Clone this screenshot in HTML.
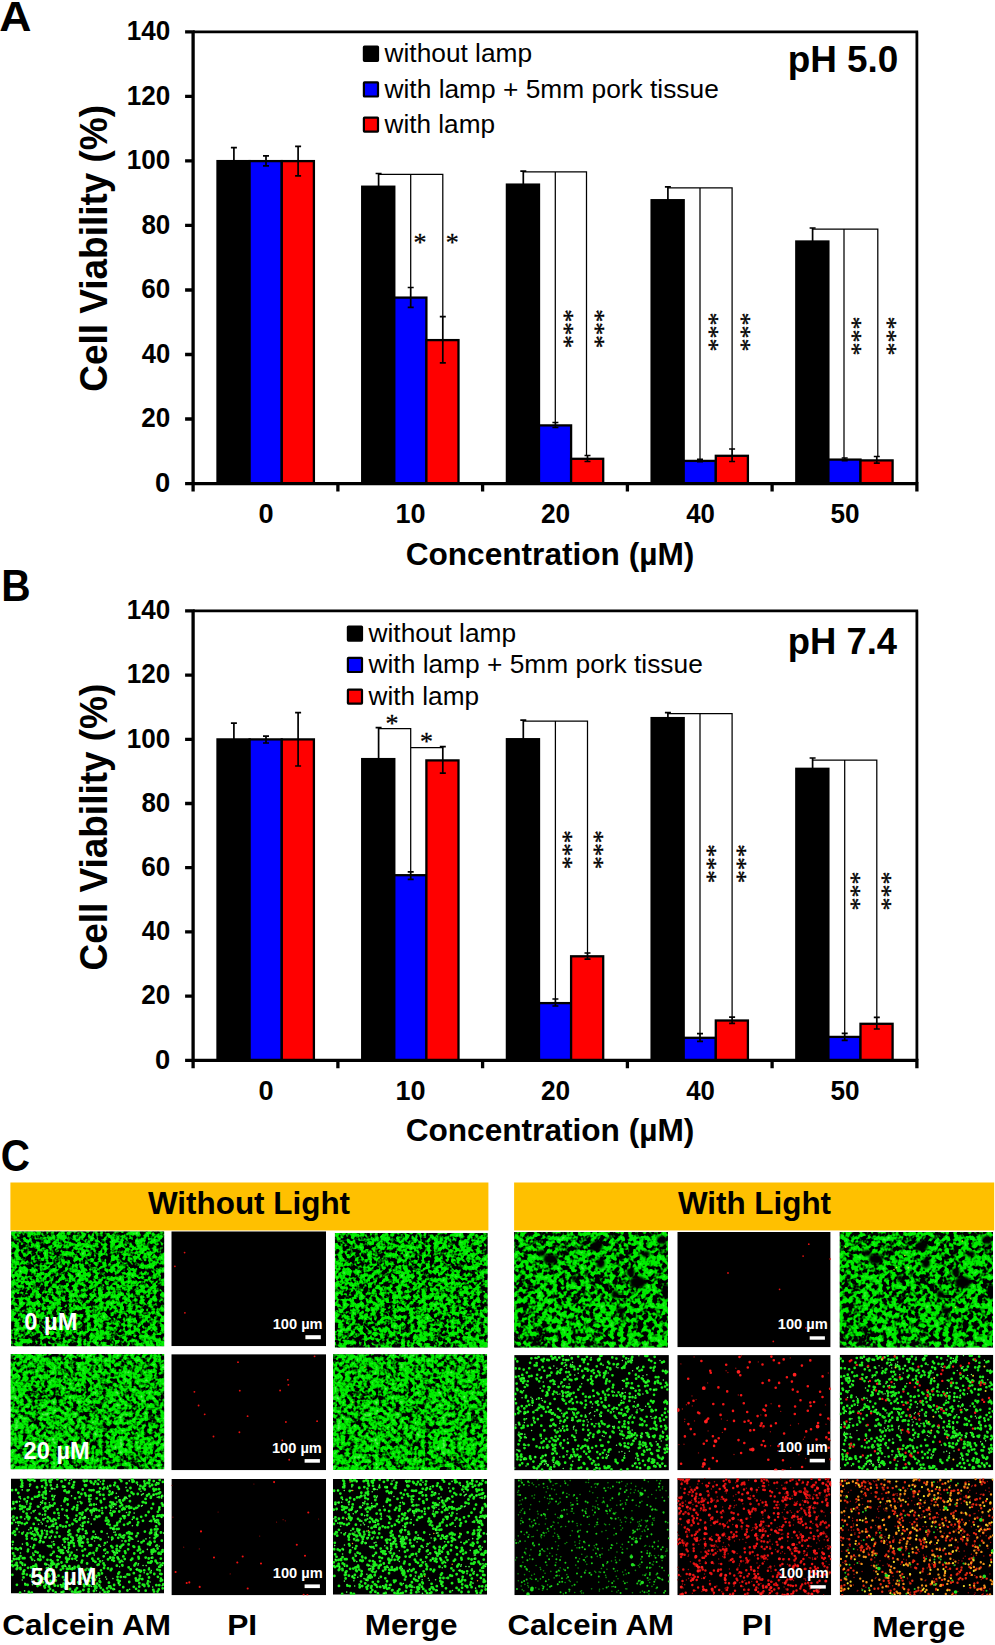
<!DOCTYPE html>
<html lang="en"><head><meta charset="utf-8"><title>Figure</title>
<style>html,body{margin:0;padding:0;background:#fff}svg{display:block}text{font-family:"Liberation Sans",Arial,sans-serif}text.sf{font-family:"Liberation Serif","Times New Roman",serif;stroke:#000;stroke-width:.3px}</style>
</head><body>
<svg width="995" height="1645" viewBox="0 0 995 1645">
<rect width="995" height="1645" fill="#fff"/>
<g id="chartA">
<rect x="217.5" y="161.1" width="32.1" height="322.5" fill="#000" stroke="#000" stroke-width="2.3"/>
<rect x="249.6" y="161.1" width="32.1" height="322.5" fill="#0000ff" stroke="#000" stroke-width="2.3"/>
<rect x="281.8" y="161.1" width="32.1" height="322.5" fill="#ff0000" stroke="#000" stroke-width="2.3"/>
<rect x="362.2" y="186.7" width="32.1" height="296.9" fill="#000" stroke="#000" stroke-width="2.3"/>
<rect x="394.3" y="297.6" width="32.1" height="186" fill="#0000ff" stroke="#000" stroke-width="2.3"/>
<rect x="426.4" y="340.1" width="32.1" height="143.5" fill="#ff0000" stroke="#000" stroke-width="2.3"/>
<rect x="506.9" y="184.6" width="32.1" height="299" fill="#000" stroke="#000" stroke-width="2.3"/>
<rect x="539" y="425.4" width="32.1" height="58.1" fill="#0000ff" stroke="#000" stroke-width="2.3"/>
<rect x="571.1" y="458.8" width="32.1" height="24.7" fill="#ff0000" stroke="#000" stroke-width="2.3"/>
<rect x="651.6" y="200.2" width="32.1" height="283.4" fill="#000" stroke="#000" stroke-width="2.3"/>
<rect x="683.7" y="460.9" width="32.1" height="22.6" fill="#0000ff" stroke="#000" stroke-width="2.3"/>
<rect x="715.8" y="455.8" width="32.1" height="27.7" fill="#ff0000" stroke="#000" stroke-width="2.3"/>
<rect x="796.3" y="241.5" width="32.1" height="242.1" fill="#000" stroke="#000" stroke-width="2.3"/>
<rect x="828.4" y="459.6" width="32.1" height="23.9" fill="#0000ff" stroke="#000" stroke-width="2.3"/>
<rect x="860.5" y="460.4" width="32.1" height="23.1" fill="#ff0000" stroke="#000" stroke-width="2.3"/>
<path d="M233.9 147.7V173M230.9 147.7h6M266 155.8V165.8M263 155.8h6M263 165.8h6M298.1 146.3V175.9M295.1 146.3h6M295.1 175.9h6M378.6 173.5V199M375.6 173.5h6M410.7 287.5V307.4M407.7 287.5h6M407.7 307.4h6M442.8 316.7V362.9M439.8 316.7h6M439.8 362.9h6M523.3 171.1V197M520.3 171.1h6M555.4 422.5V427.5M552.4 422.5h6M552.4 427.5h6M587.5 455.5V461.5M584.5 455.5h6M584.5 461.5h6M667.9 186.8V212M664.9 186.8h6M700 459.3V461.7M697 459.3h6M697 461.7h6M732.1 449V461.5M729.1 449h6M729.1 461.5h6M812.6 228V254M809.6 228h6M844.7 458V460.6M841.7 458h6M841.7 460.6h6M876.8 456.5V463.2M873.8 456.5h6M873.8 463.2h6" stroke="#000" stroke-width="1.7" fill="none"/>
<path d="M378.6 174.4H442.8V316.7M410.7 174.4V287.5M522.9 171.9H586.5V455.5M555.3 171.9V422.5M667.9 187.8H732.1V449M700 187.8V459.3M812.3 229.2H877.8V456.5M844 229.2V458" stroke="#000" stroke-width="1.25" fill="none"/>
<text class="sf" x="419.9" y="251" font-size="26" text-anchor="middle">*</text>
<text class="sf" x="452.2" y="251" font-size="26" text-anchor="middle">*</text>
<text class="sf" transform="translate(555.6 328.8) rotate(90)" font-size="26" text-anchor="middle">***</text>
<text class="sf" transform="translate(586.8 328.8) rotate(90)" font-size="26" text-anchor="middle">***</text>
<text class="sf" transform="translate(701.4 332) rotate(90)" font-size="26" text-anchor="middle">***</text>
<text class="sf" transform="translate(732.6 332) rotate(90)" font-size="26" text-anchor="middle">***</text>
<text class="sf" transform="translate(844.4 336) rotate(90)" font-size="26" text-anchor="middle">***</text>
<text class="sf" transform="translate(878.5 336) rotate(90)" font-size="26" text-anchor="middle">***</text>
<path d="M193.1 31.9H918.2M916.9 31.9V483.6" stroke="#000" stroke-width="2.8" fill="none"/>
<path d="M185.1 31.9H193.1M193.1 30.2V491.6M185.1 483.6H918.5M916.9 483.6V491.6M185.1 419H193.1M185.1 354.5H193.1M185.1 290H193.1M185.1 225.4H193.1M185.1 160.9H193.1M185.1 96.4H193.1M337.9 483.6V491.6M482.6 483.6V491.6M627.4 483.6V491.6M772.1 483.6V491.6" stroke="#000" stroke-width="3.3" fill="none"/>
<text transform="translate(155.11 491.84) scale(1.0136 1)" font-size="27" font-weight="bold">0</text>
<text transform="translate(141.29 427.31) scale(0.9662 1)" font-size="27" font-weight="bold">20</text>
<text transform="translate(141.82 362.78) scale(0.9479 1)" font-size="27" font-weight="bold">40</text>
<text transform="translate(141.29 298.25) scale(0.9662 1)" font-size="27" font-weight="bold">60</text>
<text transform="translate(141.42 233.72) scale(0.9615 1)" font-size="27" font-weight="bold">80</text>
<text transform="translate(126.71 169.2) scale(0.9656 1)" font-size="27" font-weight="bold">100</text>
<text transform="translate(126.71 104.67) scale(0.9656 1)" font-size="27" font-weight="bold">120</text>
<text transform="translate(126.71 40.14) scale(0.9656 1)" font-size="27" font-weight="bold">140</text>
<text transform="translate(258.61 523.4) scale(0.9985 1)" font-size="27.2" font-weight="bold">0</text>
<text transform="translate(395.47 523.4) scale(0.995 1)" font-size="27.2" font-weight="bold">10</text>
<text transform="translate(540.99 523.4) scale(0.9662 1)" font-size="27.2" font-weight="bold">20</text>
<text transform="translate(686.2 523.4) scale(0.9479 1)" font-size="27.2" font-weight="bold">40</text>
<text transform="translate(830.49 523.4) scale(0.9615 1)" font-size="27.2" font-weight="bold">50</text>
<text transform="translate(405.63 565.45) scale(1.0015 1)" font-size="31.58" font-weight="bold">Concentration (µM)</text>
<text transform="translate(107.33 391.68) rotate(-90) scale(0.9653 1)" font-size="38.28" font-weight="bold">Cell Viability (%)</text>
<rect x="363.9" y="46.7" width="14.1" height="14.1" rx="0.6" fill="#000" stroke="#000" stroke-width="2.2"/>
<text transform="translate(384.5 61.8) scale(1.053 1)" font-size="24.98">without lamp</text>
<rect x="363.9" y="82.4" width="14.1" height="14.1" rx="0.6" fill="#0000ff" stroke="#000" stroke-width="2.2"/>
<text transform="translate(384.5 97.5) scale(1.0544 1)" font-size="24.98">with lamp + 5mm pork tissue</text>
<rect x="363.9" y="117.6" width="14.1" height="14.1" rx="0.6" fill="#ff0000" stroke="#000" stroke-width="2.2"/>
<text transform="translate(384.5 132.7) scale(1.0478 1)" font-size="24.98">with lamp</text>
<text transform="translate(787.7 72.3) scale(0.9953 1)" font-size="37.06" font-weight="bold">pH 5.0</text>
</g>
<g id="chartB">
<rect x="217.5" y="739.4" width="32.1" height="321" fill="#000" stroke="#000" stroke-width="2.3"/>
<rect x="249.6" y="739.4" width="32.1" height="321" fill="#0000ff" stroke="#000" stroke-width="2.3"/>
<rect x="281.8" y="739.4" width="32.1" height="321" fill="#ff0000" stroke="#000" stroke-width="2.3"/>
<rect x="362.2" y="759.1" width="32.1" height="301.2" fill="#000" stroke="#000" stroke-width="2.3"/>
<rect x="394.3" y="875.2" width="32.1" height="185.1" fill="#0000ff" stroke="#000" stroke-width="2.3"/>
<rect x="426.4" y="760.4" width="32.1" height="299.9" fill="#ff0000" stroke="#000" stroke-width="2.3"/>
<rect x="506.9" y="739.2" width="32.1" height="321.1" fill="#000" stroke="#000" stroke-width="2.3"/>
<rect x="539" y="1003.1" width="32.1" height="57.2" fill="#0000ff" stroke="#000" stroke-width="2.3"/>
<rect x="571.1" y="956.3" width="32.1" height="104" fill="#ff0000" stroke="#000" stroke-width="2.3"/>
<rect x="651.6" y="718.1" width="32.1" height="342.2" fill="#000" stroke="#000" stroke-width="2.3"/>
<rect x="683.7" y="1037.8" width="32.1" height="22.6" fill="#0000ff" stroke="#000" stroke-width="2.3"/>
<rect x="715.8" y="1020.5" width="32.1" height="39.8" fill="#ff0000" stroke="#000" stroke-width="2.3"/>
<rect x="796.3" y="768.8" width="32.1" height="291.5" fill="#000" stroke="#000" stroke-width="2.3"/>
<rect x="828.4" y="1036.9" width="32.1" height="23.5" fill="#0000ff" stroke="#000" stroke-width="2.3"/>
<rect x="860.5" y="1023.8" width="32.1" height="36.5" fill="#ff0000" stroke="#000" stroke-width="2.3"/>
<path d="M233.9 723.2V755M230.9 723.2h6M266 736.1V743M263 736.1h6M263 743h6M298.1 712.6V766M295.1 712.6h6M295.1 766h6M378.6 727.7V790M375.6 727.7h6M410.7 871.8V879.3M407.7 871.8h6M407.7 879.3h6M442.8 746.7V773.2M439.8 746.7h6M439.8 773.2h6M523.3 720.2V757M520.3 720.2h6M555.4 999V1006M552.4 999h6M552.4 1006h6M587.5 953V959.2M584.5 953h6M584.5 959.2h6M667.9 712.6V723M664.9 712.6h6M700 1033.7V1041.3M697 1033.7h6M697 1041.3h6M732.1 1017.1V1023.3M729.1 1017.1h6M729.1 1023.3h6M812.6 758V779M809.6 758h6M844.7 1033.4V1040.3M841.7 1033.4h6M841.7 1040.3h6M876.8 1017.4V1029M873.8 1017.4h6M873.8 1029h6" stroke="#000" stroke-width="1.7" fill="none"/>
<path d="M378.6 728.6H410.7V871.8M410.7 747.6H442.8M523.3 721H587.5V953M555.4 721V999M667.9 713.5H732.1V1017.1M700 713.5V1033.7M812.6 760.1H876.8V1017.4M844.7 760.1V1033.4" stroke="#000" stroke-width="1.25" fill="none"/>
<text class="sf" x="392" y="731.5" font-size="26" text-anchor="middle">*</text>
<text class="sf" x="426.6" y="749.5" font-size="26" text-anchor="middle">*</text>
<text class="sf" transform="translate(555 849.8) rotate(90)" font-size="26" text-anchor="middle">***</text>
<text class="sf" transform="translate(586.3 849.8) rotate(90)" font-size="26" text-anchor="middle">***</text>
<text class="sf" transform="translate(698.5 863.7) rotate(90)" font-size="26" text-anchor="middle">***</text>
<text class="sf" transform="translate(729.4 863.7) rotate(90)" font-size="26" text-anchor="middle">***</text>
<text class="sf" transform="translate(842.9 891) rotate(90)" font-size="26" text-anchor="middle">***</text>
<text class="sf" transform="translate(873.8 891) rotate(90)" font-size="26" text-anchor="middle">***</text>
<path d="M193.1 610.9H918.2M916.9 610.9V1060.3" stroke="#000" stroke-width="2.8" fill="none"/>
<path d="M185.1 610.9H193.1M193.1 609.3V1068.3M185.1 1060.3H918.5M916.9 1060.3V1068.3M185.1 996.1H193.1M185.1 931.9H193.1M185.1 867.7H193.1M185.1 803.5H193.1M185.1 739.3H193.1M185.1 675.1H193.1M337.9 1060.3V1068.3M482.6 1060.3V1068.3M627.4 1060.3V1068.3M772.1 1060.3V1068.3" stroke="#000" stroke-width="3.3" fill="none"/>
<text transform="translate(155.11 1068.64) scale(1.0136 1)" font-size="27" font-weight="bold">0</text>
<text transform="translate(141.29 1004.43) scale(0.9662 1)" font-size="27" font-weight="bold">20</text>
<text transform="translate(141.82 940.22) scale(0.9479 1)" font-size="27" font-weight="bold">40</text>
<text transform="translate(141.29 876.02) scale(0.9662 1)" font-size="27" font-weight="bold">60</text>
<text transform="translate(141.42 811.81) scale(0.9615 1)" font-size="27" font-weight="bold">80</text>
<text transform="translate(126.71 747.6) scale(0.9656 1)" font-size="27" font-weight="bold">100</text>
<text transform="translate(126.71 683.4) scale(0.9656 1)" font-size="27" font-weight="bold">120</text>
<text transform="translate(126.71 619.19) scale(0.9656 1)" font-size="27" font-weight="bold">140</text>
<text transform="translate(258.61 1100.2) scale(0.9985 1)" font-size="27.2" font-weight="bold">0</text>
<text transform="translate(395.47 1100.2) scale(0.995 1)" font-size="27.2" font-weight="bold">10</text>
<text transform="translate(540.99 1100.2) scale(0.9662 1)" font-size="27.2" font-weight="bold">20</text>
<text transform="translate(686.2 1100.2) scale(0.9479 1)" font-size="27.2" font-weight="bold">40</text>
<text transform="translate(830.49 1100.2) scale(0.9615 1)" font-size="27.2" font-weight="bold">50</text>
<text transform="translate(405.63 1141.4) scale(1.0015 1)" font-size="31.58" font-weight="bold">Concentration (µM)</text>
<text transform="translate(107.33 970.48) rotate(-90) scale(0.9653 1)" font-size="38.28" font-weight="bold">Cell Viability (%)</text>
<rect x="347.9" y="626.5" width="14.1" height="14.1" rx="0.6" fill="#000" stroke="#000" stroke-width="2.2"/>
<text transform="translate(368.5 641.6) scale(1.053 1)" font-size="24.98">without lamp</text>
<rect x="347.9" y="657.9" width="14.1" height="14.1" rx="0.6" fill="#0000ff" stroke="#000" stroke-width="2.2"/>
<text transform="translate(368.5 673) scale(1.0544 1)" font-size="24.98">with lamp + 5mm pork tissue</text>
<rect x="347.9" y="689.6" width="14.1" height="14.1" rx="0.6" fill="#ff0000" stroke="#000" stroke-width="2.2"/>
<text transform="translate(368.5 704.7) scale(1.0478 1)" font-size="24.98">with lamp</text>
<text transform="translate(787.73 653.7) scale(0.9834 1)" font-size="37.06" font-weight="bold">pH 7.4</text>
</g>
<text transform="translate(-0.82 30.76) scale(1.0317 1)" font-size="43.26" font-weight="bold">A</text>
<text transform="translate(1.36 600.7) scale(0.9324 1)" font-size="43.61" font-weight="bold">B</text>
<text transform="translate(0.68 1171.27) scale(0.9152 1)" font-size="44.21" font-weight="bold">C</text>
<g id="panelC">
<rect x="10.4" y="1182.5" width="478" height="47.95" fill="#ffc000"/>
<rect x="514.1" y="1182.5" width="480.1" height="47.95" fill="#ffc000"/>
<text transform="translate(148 1214) scale(1.0053 1)" font-size="31.25" font-weight="bold">Without Light</text>
<text transform="translate(677.9 1214.1) scale(1.0091 1)" font-size="31.11" font-weight="bold">With Light</text>
<defs><filter id="fL1" x="0" y="0" width="100%" height="100%" color-interpolation-filters="sRGB"><feTurbulence type="fractalNoise" baseFrequency="0.24" numOctaves="2" seed="11"/><feColorMatrix type="matrix" values="1 0 0 0 0 0 1 0 0 0 0 0 1 0 0 0 0 0 0 1" result="n"/><feTurbulence type="fractalNoise" baseFrequency="0.05" numOctaves="2" seed="9"/><feColorMatrix type="matrix" values="1 0 0 0 0 0 1 0 0 0 0 0 1 0 0 0 0 0 0 1" result="m"/><feComposite in="n" in2="m" operator="arithmetic" k1="0" k2="1" k3="0.3" k4="-0.15" result="c"/><feColorMatrix in="c" type="matrix" values="0 1.5 0 0 -1.05  0 5.5 0 0 -2.09  0 1.5 0 0 -1.05  0 0 0 0 1"/><feGaussianBlur stdDeviation="0.6"/></filter><g id="L1"><rect width="153.0" height="115.0" fill="#000"/><rect width="153.0" height="115.0" filter="url(#fL1)" opacity="0.92"/></g><filter id="fL2" x="0" y="0" width="100%" height="100%" color-interpolation-filters="sRGB"><feTurbulence type="fractalNoise" baseFrequency="0.24" numOctaves="2" seed="21"/><feColorMatrix type="matrix" values="1 0 0 0 0 0 1 0 0 0 0 0 1 0 0 0 0 0 0 1" result="n"/><feTurbulence type="fractalNoise" baseFrequency="0.06" numOctaves="2" seed="4"/><feColorMatrix type="matrix" values="1 0 0 0 0 0 1 0 0 0 0 0 1 0 0 0 0 0 0 1" result="m"/><feComposite in="n" in2="m" operator="arithmetic" k1="0" k2="1" k3="0.3" k4="-0.15" result="c"/><feColorMatrix in="c" type="matrix" values="0 2 0 0 -1.32  0 4.8 0 0 -1.608  0 2 0 0 -1.32  0 0 0 0 1"/><feGaussianBlur stdDeviation="0.6"/></filter><g id="L2"><rect width="153.0" height="115.0" fill="#000"/><rect width="153.0" height="115.0" filter="url(#fL2)" opacity="0.92"/></g><g id="L3"><rect width="153.0" height="115.0" fill="#000"/><path d="M97.6 43h0M121.2 80.2h0M23.6 56.2h0M128.2 108.2h0M3.9 53.1h0M84 101.2h0M36 55.8h0M103.3 6.7h0M32.2 19h0M38.8 40.1h0M40.2 42.3h0M124.9 84.8h0M142.9 113.1h0M99.8 91.7h0M148.2 45.6h0M149.5 75.4h0M89.2 103.6h0M26.7 54.5h0M117.9 58.4h0M73.2 107.8h0M11.5 27.9h0M33.9 109.1h0M110.3 2.7h0M16.4 30.8h0M87.2 80.3h0M17.1 18.9h0M38.6 2.2h0M60.2 58.3h0M11.2 85h0M24.4 51.3h0M72.6 57.8h0M89.5 60.8h0M122.8 94.7h0M85.4 72.1h0M112.5 29.3h0M117.1 70.8h0M102.6 79.4h0M3.2 52.8h0M145.3 15.6h0M69 34.9h0M137.5 33.5h0M43.9 107.2h0M143.5 63.1h0M72.3 39.7h0M32.1 103.8h0M36.8 30h0M147.6 14.8h0M133.2 3h0M148.3 28.8h0M6.5 89.7h0M80.2 66.9h0M36.2 28.7h0M35 4.4h0M22.8 45.4h0M142.1 38h0M43 40.6h0M57.2 105.3h0M140.4 29.8h0M1.1 86.6h0M65.9 56.8h0M119.4 9.5h0M40.8 10.1h0M101.5 14.3h0M88.4 37.7h0M128.3 104.7h0M40 89.2h0M99.5 23.7h0M60.6 63.2h0M54.8 48h0M62.2 101.1h0M22.7 32.8h0M73.9 6.6h0M115.6 4.8h0M68.4 50.5h0M20 49.6h0M77.1 43.6h0M139.7 19.3h0M76.8 105.4h0M26.1 90h0M96.2 45.4h0M125.1 29.4h0M78.4 102.6h0M90 23.8h0M61.6 30.6h0M9.4 89.3h0M47.5 34.7h0M34.8 12.5h0M120.3 60.1h0M113.9 37.8h0M106.5 98.3h0M16.7 106.4h0M55.7 93.7h0M129.4 93.1h0M3.7 29.8h0M66.8 88.6h0M116.4 112h0M43.6 25h0M61.5 45.5h0M36 53h0M26.3 50.5h0M24 18.3h0M15.9 44.3h0M61.2 90.7h0M87.7 85.9h0M48.1 72.1h0M103.1 106.5h0M143.5 59.7h0M32.4 78.5h0M64.4 80.1h0M20.2 89h0M71.7 34.1h0M0.9 82.8h0M100.2 29h0M93 89.6h0M84.9 30.7h0M1.5 96.3h0M4.8 70h0M52 98.7h0M126.3 46.5h0M97 89.9h0M100.5 90.4h0M116.4 12.1h0M46.4 48.6h0M140.1 51.4h0M23.6 2.3h0M112 21.9h0M39.1 110.4h0M74.4 7.3h0M59.1 90.1h0M149.1 95.3h0M0.8 30.5h0M129.9 92.5h0M92.7 77.8h0M88.6 102.7h0M61.7 59.5h0M79.5 2.8h0M125 110.3h0M138.8 7.8h0M68.6 18.7h0M120 81.4h0M16.5 37.4h0M6 106.3h0M69.3 39.2h0M41 47.4h0M152.2 106h0M21.8 0.7h0M108.7 22.9h0M31.2 8h0M138.9 54.8h0M68.3 59.3h0M145.5 56.9h0M5.1 11.5h0M7.4 14.5h0M114 19.2h0M37 38.7h0M38.4 48.6h0M142.9 72.7h0M94.9 29.1h0M41.3 53.7h0M128.1 70h0M34.2 58.9h0M45.4 88.5h0M146.3 84.7h0M116 54.7h0M45 45h0M88 66.8h0M118.1 61.9h0M80.3 11.8h0M52.7 60.9h0M151 101.7h0M151.5 73.1h0M30.4 57.3h0M16.7 11.9h0M54.3 19.8h0M146.4 50.6h0M146.4 57h0M26.9 41.4h0M126 40.5h0M41.5 95.7h0M145 58.1h0M32.8 100h0M13.6 20.7h0M34.9 14.9h0M103.8 76.2h0M139.2 84.2h0M27.8 96.2h0M13.6 79.7h0M126.7 72.1h0M123 30.3h0M21.3 81.1h0M86.1 38.5h0M44.5 41.6h0M26.1 8.7h0M29.4 62.4h0M118.2 96.2h0M28.6 94.6h0M107.7 103.7h0M147.9 10.7h0M101.1 59.2h0M53.4 22.8h0M9.6 77.6h0M29.2 77.9h0M27.9 102h0M87.6 13.4h0M17.9 113.4h0M9.2 27.5h0M86.1 105.1h0M144.6 82.8h0M28.7 63.7h0M133.2 91.8h0M93.3 9.2h0M54.3 1.2h0M76.5 30.4h0M97 41.9h0M53.8 63.3h0M21.1 1.3h0M84.3 107.4h0M132.5 8.2h0M12.6 92.8h0M114.4 74.5h0M39.6 53.3h0M22.2 88h0M39.7 81.6h0M1.9 54.7h0M76.8 63.8h0M37.4 112.5h0M98.6 46.3h0M66.4 26.9h0M41.1 86.2h0M134.7 24.4h0M148.6 1.6h0M134.6 112.2h0M151.1 36.6h0M17.6 40.8h0M11 5.4h0M149.8 100.1h0M1.3 69.8h0M8 79.6h0M151.7 27.2h0M83 26h0M80.9 60.2h0M7.1 44h0M13.9 45.6h0M36.6 42.8h0M37.3 95.6h0M56.3 81.7h0M108.7 42.9h0M90.6 53.2h0M113 46.3h0M13.9 86.4h0M124.7 99.9h0M85 58.8h0M57.3 53.4h0M62.7 64.9h0M134 7.1h0M76.2 77.3h0M145 47.8h0M23.6 91.6h0M65.8 77.9h0M76 106.5h0M35 105.9h0M113.3 20.9h0M78.5 11.6h0M128.5 100.1h0M81.9 58.3h0M143.9 56.2h0M44.9 102h0M6.8 71h0M13.9 28.4h0M120.8 55.2h0M109.6 40.3h0M122.4 67.8h0M120.2 29.2h0M119.6 91h0M121 1h0M128.9 71.1h0M77.5 113.2h0M54.1 12h0M146.1 41.7h0M127.4 78.4h0M136 17h0M64.4 112h0M126 91h0M58.7 110.7h0M59.1 110.4h0M72 64.2h0M103.6 47.6h0M113.4 39.5h0M52 8h0M107.5 80.7h0M148.7 91.9h0M68.2 63.8h0M110.6 67.2h0M11.4 55h0M112.4 59.3h0M140.3 82.9h0M96.6 113.5h0M118.7 54.2h0M38.8 2.9h0M2.5 24.9h0M49.7 71.7h0M30.9 52.5h0M109 27.8h0M60.1 90.3h0M142 25.5h0M108.4 21.8h0M125.3 57.8h0M83.5 40.7h0M149.2 88.1h0M139.8 84h0M143.8 50.9h0M116.4 95.9h0M117.6 88.8h0M25 61h0M138.3 2.1h0M39.6 3.7h0M10.2 8.1h0M15.7 35.1h0M34.9 98h0M28 16.9h0M146.9 42h0M58.4 87.7h0M127.6 27.3h0M67.4 14h0M146.8 98.3h0M70.6 83.9h0M2.2 74.9h0M122.7 108.3h0M6 50.5h0M73 58.8h0M146.6 37.2h0M69.5 64.6h0M9.2 27.2h0M62.5 6.4h0M123.2 75h0M136.9 65.5h0M72.2 77.1h0M66 109.7h0M34.3 25h0M107.6 50.3h0M97 80.9h0M30.6 2.2h0M108.6 113h0M39.8 6.8h0M29.1 106.4h0M89.6 22.3h0M16.9 72.8h0M105.6 70.6h0M146.2 91.1h0M133.8 53.1h0M59.3 55.6h0M142.5 71h0M46.1 8.3h0M19.2 28.2h0M71.2 82.1h0M151.1 17.4h0M2.1 87.5h0M58 13.1h0M111.2 86.6h0M128.8 97.2h0M52.1 89.8h0M11.2 8.2h0M137.2 84.1h0M101.7 24.2h0M34.3 85.4h0M50.5 84h0M138.8 63.4h0M78.1 106.8h0M71.7 11h0M141.1 6.5h0M51.6 87.9h0M48.5 58h0M26.2 8.9h0M87.5 1.2h0M112.2 108.7h0M28.2 13.7h0M141.8 73.4h0M82.4 31.9h0M9.3 30.6h0M114.2 98.4h0M108.2 72.3h0M39 27h0M104 4.3h0M139.6 64.4h0M63.4 76.8h0M137.9 90.8h0M74.8 31.9h0M142.4 10.4h0M15.3 56.8h0M123.4 87h0M150.7 62.2h0M136.3 4.4h0M28.8 57.5h0M148.1 88.4h0M70.9 94.3h0M41.2 42.4h0M147.5 44.4h0M55.6 108.7h0M10.3 1.6h0M108.9 0.7h0M2.5 23.6h0M106.5 8.2h0M151.5 71.6h0M90 91.8h0M115.5 28.1h0M69.3 57.9h0M78.3 107.3h0M129.3 74.4h0M102.3 49.9h0M51.4 30.8h0M15.7 57.8h0M74 15h0M89.1 82.9h0M131.9 73.1h0M151.9 36.8h0M73.9 39h0M81.3 31.9h0M108.2 93.8h0M36 89.9h0M102.4 110.7h0M108.7 102.6h0M130.1 38.3h0M91 29.6h0M3.6 77.4h0M50 74h0M37 98.2h0M8.8 43.9h0M67.4 113.7h0M107.2 59.3h0M94 64.7h0M52 48.1h0M70 95.3h0M26.8 74.1h0M74 70.8h0M86.6 86.4h0M111.2 31h0M131.6 23.6h0M42.9 105.4h0M14.4 106h0M43.2 85.4h0M4.5 86.4h0M140.1 54.3h0M57.8 66.5h0M118.6 33.8h0M78 17.5h0M77.1 95.9h0M111 26.5h0M15.9 96.1h0M57 90.4h0M6.1 86.8h0M126.8 54.8h0M131.9 9.6h0M108.8 83.5h0M102.4 33.2h0M56.5 21h0M147.8 37.2h0M67.5 87.5h0M68 104.9h0M19.7 54.5h0M38.8 28h0M105.9 67.5h0M13.5 91.8h0M149.6 102.3h0M12.6 98.9h0M99.2 78.9h0M87.1 59.3h0M143.2 95.5h0M26.4 18.2h0M46.5 31h0M39 3.3h0M19.4 97.2h0M29.6 81.2h0M16 38.5h0M17.2 71.1h0M68.2 90.9h0M60.6 74.1h0M127.7 80h0M57.6 56.6h0M45.5 87.3h0M84.4 83.4h0M9.6 90.6h0M89.7 109.3h0M142.7 2.6h0M33.4 107.6h0M150.2 37.9h0M21.1 98.5h0M117.8 53.7h0M13.2 28.6h0M81.3 80.2h0M73.6 43.8h0M24.3 49.8h0M100.8 35.6h0M140.5 73.5h0M71.7 47.4h0M144.2 72.7h0M26.6 107.6h0M8.7 18.6h0M102 79.1h0M5.7 84.5h0M123.1 68.4h0M35.6 96.6h0M53.7 87.2h0M117.5 36.4h0M39.9 76.4h0M47.7 39.6h0M38.8 59.2h0M2.5 38.1h0M32.7 13.8h0M52.7 105.2h0M5.6 80.4h0M29 81.6h0M19.7 25.3h0M83.5 107.8h0M48.7 78.6h0M4.3 56.3h0M92.6 2.3h0M151.7 84.8h0M9.2 114.2h0M122.4 15.5h0M150.8 25h0M111.4 87h0M149.1 14h0M100.2 67.6h0M65.4 42.8h0M133.3 107.5h0M71.9 44.7h0M9.7 83.9h0M38.4 106.4h0M50.8 108.2h0M85.7 20h0M67.2 104h0M118.2 103.5h0M55.2 80.1h0M11 30.1h0M106.6 101.4h0M149.7 86.4h0M15.8 23.2h0M53.7 21.8h0M27 28.1h0M22.2 69.2h0M100.7 36.9h0M50.6 106.9h0M49.4 47h0M57 39.6h0M105.9 46.5h0M147.1 5h0M102.7 73.6h0M24.3 60.6h0M74.5 91.5h0M109 56.3h0M47.4 69.2h0M150.4 95.6h0M91.3 34.7h0M131.2 100.7h0M53.6 68.6h0M142.9 12.3h0M88.3 107h0M36.5 81.3h0M70.2 91.1h0M85.5 97.3h0M134.5 20.4h0M11.9 79.7h0M49.8 91.3h0M93.5 86.9h0M85.1 38h0M132.2 23.7h0M11.3 4.7h0M82.9 30.5h0M17.1 89.3h0M53.5 8.2h0M18.9 2h0M63.6 88.4h0M52.4 113.2h0M113.7 80.6h0M19.2 6.1h0M41.4 17.4h0M138.8 66.3h0M100.5 15.4h0M63.5 41.5h0M125.1 102.1h0M11 2.3h0M127.1 44h0M42.7 73.5h0M53.7 101.6h0M118 27.9h0M82.4 82.2h0M108.4 56.3h0M68.5 41.2h0M76.5 60.9h0M121.5 1.1h0M90.9 94.9h0M140.1 42.5h0M63.5 89.8h0M23.4 57.1h0M140.6 83h0M78.4 66.9h0M11 44.8h0M69.9 59.5h0M34.4 100.5h0M82.5 11.7h0M147.7 110.9h0M93.3 71.7h0M86 69.9h0M38.6 91.3h0M150.6 73.3h0M71.5 72.3h0M137.6 107.5h0M56 90.2h0M140.1 54h0M72.8 106.2h0M92 5.5h0M70.9 92.9h0M16.5 66.2h0M132.6 62.4h0M101.2 81.4h0M148.2 31h0M101.5 60h0M84.4 3h0M92.5 85h0M104.7 56.3h0M52.3 107.4h0M55.8 32h0M80.6 99.4h0M72.4 111.5h0M144.5 82.2h0M44.7 113.8h0M67.4 53h0M142.6 16.2h0M79.7 32.5h0M46.1 49.9h0M99.7 49.4h0M28.3 17h0M55.9 108.4h0M20 78.8h0M94.1 71.1h0M88.2 32.1h0M28.7 35.3h0M60 64h0M58 69.3h0M93.6 113.5h0M62.2 9.1h0M60.9 102.4h0M128.1 91.9h0M128.5 10.5h0M82.5 53.2h0M82.5 100.8h0M68.7 34.9h0M146.8 33.3h0M78.2 20.4h0M47.5 85.4h0M71.5 100h0M25 86.2h0M26.5 105.1h0M87.6 94.8h0M46.2 86.2h0M40 67.7h0M142.3 72.4h0M46.8 81.6h0M151.6 109.8h0M106.5 79h0M125.8 4.2h0M17.3 1h0M12 95.4h0M72.7 2.1h0M134.6 79.1h0M69.8 61.8h0M137.9 99h0M99.4 34.7h0M22.7 76.4h0M119 59.2h0M109.8 24.3h0M18.7 30h0M96.1 109.8h0M136.4 105h0M63 28.7h0M147.4 75h0M124 85.9h0M148.1 18.7h0M110.4 58.3h0M39.6 87.7h0M79.4 74.7h0M34.1 36.1h0M146.5 70h0M20.9 114.1h0M97.9 104.2h0M78 91.2h0M85.4 109.2h0M80.3 4h0M84.3 110h0M58 64.8h0M133.7 11h0M118.5 17.5h0M102.8 50.7h0M137 102.7h0M82.9 112.5h0M140.6 71.6h0M9.6 69.7h0M54 60.2h0M34.7 2h0M133.8 5.4h0M47.6 97.2h0M112.2 66.1h0M144.8 6.2h0M122.6 39h0M34.3 9.5h0M66.9 51.9h0M50.6 113.9h0M80.6 34.1h0M80 26.4h0M98 107.8h0M80.1 89.7h0M56.6 60.5h0M63.2 3.6h0M27 55.8h0M142.9 40.6h0M105.7 72h0M34.7 20h0M55.8 83.4h0M137.6 80h0M94.8 42.2h0M149.8 54h0M2.9 41.5h0M75.6 54.7h0M118.7 44h0M110.4 82.4h0M74.9 52.7h0M46.2 77.8h0M126.7 102h0M129.4 7.4h0M38.6 97.6h0M40.4 84.9h0M138.4 1.5h0M126.7 15.5h0M57.2 73.5h0M141.2 79.2h0M78.2 75.3h0M32.4 40.9h0M103.5 25.7h0M145 10.9h0M113.6 30.5h0M69 93.7h0M130.4 63.9h0M21.2 20.4h0M25.8 53.3h0M135.9 17.3h0M31.5 16.5h0M64.5 111.4h0M85.3 108.1h0M63.6 114h0M105 74.3h0M47 107.3h0M114.4 62.7h0M68.4 61.6h0M104.9 19.3h0M57.1 80.7h0M96.5 73.9h0M134.1 6.5h0M12.9 95h0M86.7 5.4h0M18.5 38.8h0M151.8 3.4h0M23.6 87.7h0M145.8 66.9h0M79.7 17h0M50.6 2.9h0M61.1 113.1h0M58.5 46.8h0M34.7 1.9h0M108.2 33h0M59.4 64.3h0M134.8 36.9h0M24.9 39.6h0M41.4 83h0M35 85.8h0M23.3 66.7h0M34.4 32.6h0M118.6 55.2h0M52.8 105.9h0M41.5 104.7h0M21.8 95.3h0M106.3 44.4h0M122.7 2.9h0M71.7 50.8h0M97.7 112.8h0M121.5 3.3h0M29 77.2h0M3.1 80.8h0M58 80.3h0M89.1 9.8h0M101.7 72.6h0M24.1 56.7h0M42.1 47.1h0M146.5 113.1h0M98.6 13h0M82.5 74.4h0M55.8 37.6h0M77.7 110.7h0M113.3 56.8h0M118.3 29.5h0M113.1 20.8h0M98.9 27.5h0M105.8 87.2h0M74.9 17h0M131.9 42.3h0M35.6 6.5h0M28.5 91.7h0M25.3 87.4h0M107.3 95.2h0M32.7 30h0M85.5 31.4h0M82.9 5.5h0M133.2 106.5h0M144.1 42.9h0M21.1 59.9h0M60.6 101.1h0M56 13.9h0M92 111.3h0M117.6 65.9h0M46.4 0.7h0M103.6 33.1h0M1.9 63.4h0M142.2 111.3h0M1.1 44.7h0M51.9 74.6h0M43.4 34.4h0M53.9 21.6h0M56.8 26h0M148.6 36.8h0M61.2 8.7h0M112.3 77.9h0M101.4 68.9h0M66.2 29.7h0M63.1 67.6h0M116.7 45.3h0M107.8 10.4h0M109.7 98.4h0M45.9 54.1h0M53.9 109.2h0M55.2 79.2h0M67.6 59.8h0M118.9 22.7h0M68.5 65.6h0M147.4 5h0M42 92.8h0M71 67.8h0M99.2 108h0M42.6 85.2h0M95.4 39.4h0M69.3 113.1h0M16.6 54.8h0M86 13.8h0M33 1.4h0M70.4 15.5h0M27.2 80.9h0M71 36.2h0M145.3 106.7h0M127.6 112.3h0M34.5 28.5h0M59 76.4h0M12.5 33.1h0M32.3 63.7h0M44.3 58.4h0M1.2 11.7h0M92.3 10.6h0M16 64.8h0M65.7 43.1h0M139.5 93.9h0M65.4 78.3h0M98.1 16.3h0M42.1 112.1h0M137.9 15.7h0M74.9 2.3h0M64.7 114h0M15.9 60.3h0M96.5 9.9h0M68.8 66.9h0M112 37.6h0M42.4 46.2h0M113.9 72.8h0M31.1 24.2h0M58.1 4.9h0M109.4 69.1h0M37.4 97.1h0M29.7 59.6h0M148.3 14.8h0M143.3 72.7h0M99.2 7.3h0M92.4 16.4h0M5.8 90.5h0M149.7 80.1h0M89.1 16.2h0M51.6 71.9h0M102.9 82.3h0M104.5 25.8h0M127.9 68.4h0M136.4 95.6h0M131.8 8.9h0M138.1 4.9h0M82.3 92.9h0M84.1 59.2h0M79.7 26.2h0M31.3 55h0M93.2 20.4h0M61.3 80.3h0M75.1 7h0M34.8 15.5h0M78.5 22.9h0M41.8 27.2h0M39.6 102.5h0M127.3 101.8h0M5.9 39.5h0M88.1 96.6h0M12 95.2h0M58.4 51.9h0M23 90.8h0M108.7 106.3h0M64.1 19.8h0M65.5 37.1h0M76.1 85h0M72.3 97.1h0M131.7 106.2h0M42.1 20.9h0M78.5 107h0M105.7 50.6h0M39.4 92.1h0M65.9 31.4h0M140 18.1h0M43 66h0M99.9 109.5h0M139.4 53.9h0M18.4 39.4h0M10.1 38.7h0M148.2 106.7h0M8.2 80.6h0M147.8 74.5h0M144.5 54.1h0M120.5 14h0M40.8 1.1h0M61.9 61.5h0M21.2 55.4h0M53.4 12.3h0M101.2 26.1h0M75.9 2.2h0M38 67.7h0M37.9 108h0M24.5 73.2h0M18.2 114.5h0M5.8 23.4h0M55.8 43.7h0M70.4 24.5h0" stroke="#1cec1c" stroke-width="2.8" stroke-linecap="round" fill="none"/><path d="M121.4 47.2h0M85.3 58.6h0M80.6 107.7h0M96.6 7.7h0M96.1 55.1h0M108.5 88.2h0M52.9 74.5h0M85.3 25.9h0M80.7 36.5h0M81.9 96.4h0M43.2 18.7h0M20.8 101.1h0M140.3 75.5h0M2.3 25.4h0M130.4 27.6h0M89.5 68h0M18.1 31h0M10.5 70.4h0M57.2 63.8h0M95.6 100.6h0M141.4 75.5h0M18.8 7.8h0M148.9 84.3h0M1.8 66.2h0M40.5 27.3h0M113.5 19.8h0M115 8.9h0M31.5 36.4h0M29.7 23.7h0M44 17h0M139 103.5h0M112.4 98.4h0M73.8 38.1h0M150.5 17.5h0M84.5 55.8h0M88.9 113.7h0M27.7 45.7h0M57.9 14.5h0M23.7 82.1h0M129.9 12.8h0M100.7 61.4h0M33.5 100.7h0M15.9 25.5h0M127.4 85.3h0M36 85.9h0M108.8 68.1h0M115.5 34h0M11.9 6.8h0M66.8 23.5h0M102.8 53.8h0M21.9 74.6h0M54.8 87.9h0M45.5 98.7h0M150.5 19.4h0M71.1 60.3h0M115.1 18.9h0M103.6 110.7h0M7.7 46.9h0M41 51.9h0M83.5 62.5h0M23.7 2.2h0M35.2 47.4h0M71.1 63.6h0M8.7 23.1h0M136.3 70.9h0M104.2 53.6h0M71.3 47.9h0M132.3 15.2h0M140.2 92h0M29.5 26.2h0M57.3 71.2h0M101.9 100.1h0M31.3 45.4h0M46.2 6.4h0M102.4 28.1h0M46.2 6h0M2.4 79.7h0M107.4 104.9h0M88.6 13h0M101.8 50.8h0M80.2 45.6h0M50.2 27.2h0M131.2 15.8h0M111 62.4h0M108.9 21.2h0M145.4 54.7h0M89.4 3.3h0M105.9 23.6h0M91.1 32.2h0M80 20.6h0M126.9 86.6h0M106.5 74.4h0M16.5 22.2h0M105.2 30h0M73.3 3.4h0M138.7 59.3h0M148.1 67.8h0M145.4 43.9h0M94.7 98.6h0M42.7 63h0M33.8 51.8h0M55.7 72.3h0M43.9 10.4h0M20.2 34.5h0M33.7 94.7h0M66.9 62.2h0M63 4h0M48.1 36.9h0M53.8 36.8h0M103.1 25.7h0M21.9 52.7h0M151.5 87h0M8.2 53.5h0M151.9 25.9h0M101.6 13.4h0M68.9 88.9h0M11.4 101.5h0M83.2 32.6h0M50.9 113.8h0M83.3 76.5h0M13.7 112.4h0M151 107.3h0M118.6 110.8h0M58.7 2.1h0M21.6 106.3h0M12.8 92.9h0M137.9 1.4h0M80 66h0M107.3 18h0M133.1 94.2h0M12.6 53.5h0M31.8 22.2h0M19.4 96.5h0M6.8 87.6h0M121.2 40.9h0M145.5 4.1h0M69.1 23.1h0M30.2 43.8h0M145.4 56h0M13.9 40.4h0M28 28.4h0M152.3 37.1h0M34.1 39.7h0M118.2 2.4h0M125.2 91h0M40.4 57.6h0M135.1 87.1h0M33.1 63.6h0M69.9 103.9h0M43.4 18.1h0M121.8 60.7h0M140.1 79.4h0M94.5 75.1h0M76 89.8h0M4.9 43.9h0M56 105.3h0M126.6 6.2h0M40.9 69.2h0M123.1 34.6h0M40.8 9.9h0M130.4 16.6h0M42.9 47.9h0M111.9 57.1h0M39 12.7h0M65.9 82h0M28.7 41.9h0M127.2 62.8h0M24.7 97.7h0M87.7 5.9h0M107.2 79.5h0M5.1 23.4h0M77.6 40.3h0M30.9 99h0M61.6 89.3h0M58.8 78.3h0M60 62.3h0M26.1 51.2h0M65.9 71.4h0M102.8 74.2h0M11.6 86.7h0M78.5 26.7h0M132 87h0M11.3 11.4h0M34.6 39.7h0M91.6 82.3h0M141.6 108.5h0M37.5 89.1h0M49.4 106.1h0M85.4 98.9h0M125.8 56.8h0M152.4 54.6h0M138 89.2h0M126.7 29.2h0M19.5 68.1h0M96.2 63.6h0M148.3 29.6h0M127 62.8h0M17.9 51.3h0M29.4 62.1h0M134.9 60.4h0M11.5 65.6h0M42.2 43.2h0M35.1 58.4h0M102 50.4h0M22.9 61.5h0M9.6 74.5h0M1 39.5h0M99.2 79.6h0M4.9 11.3h0M53.8 8.3h0M36.4 67.2h0M116 20h0M97.5 58.6h0M66.9 62.4h0M88.6 100.2h0M144.3 41.7h0M69.5 46.5h0M60.5 1h0M138.4 42.8h0M150.6 38.9h0M111.9 83.3h0M145.5 38.2h0M74.4 55h0M64.8 40h0M38.4 24.2h0M73.1 39.3h0M93 66.8h0M51.5 66.4h0M113.2 37.5h0M54.4 69.6h0M41.3 75.1h0M9.6 20.3h0M142.1 16.6h0M145.7 52.6h0M105.3 14.8h0M18.2 11.4h0M14 104.8h0M131.2 27h0M79.2 31.7h0M42 10.2h0M144.7 67.6h0M24.3 31.7h0M43.2 91.5h0M146.1 18.7h0M99.6 31.9h0M60.6 17.4h0M37.8 86.5h0M85.4 112.2h0M73.8 39.3h0M41 63.5h0" stroke="#50ff50" stroke-width="1.6" stroke-linecap="round" fill="none"/></g><filter id="bl"><feGaussianBlur stdDeviation="0.8"/></filter><filter id="fR1" x="0" y="0" width="100%" height="100%" color-interpolation-filters="sRGB"><feTurbulence type="fractalNoise" baseFrequency="0.21" numOctaves="2" seed="31"/><feColorMatrix type="matrix" values="1 0 0 0 0 0 1 0 0 0 0 0 1 0 0 0 0 0 0 1" result="n"/><feTurbulence type="fractalNoise" baseFrequency="0.05" numOctaves="2" seed="14"/><feColorMatrix type="matrix" values="1 0 0 0 0 0 1 0 0 0 0 0 1 0 0 0 0 0 0 1" result="m"/><feComposite in="n" in2="m" operator="arithmetic" k1="0" k2="1" k3="0.3" k4="-0.15" result="c"/><feColorMatrix in="c" type="matrix" values="0 1.5 0 0 -1.05  0 5.5 0 0 -2.118  0 1.5 0 0 -1.05  0 0 0 0 1"/><feGaussianBlur stdDeviation="0.6"/></filter><g id="R1"><rect width="153.0" height="115.0" fill="#000"/><rect width="153.0" height="115.0" filter="url(#fR1)" opacity="0.92"/><g fill="#000" filter="url(#bl)"><ellipse cx="36" cy="27" rx="7" ry="5"/><ellipse cx="27" cy="21" rx="4" ry="3"/><ellipse cx="82" cy="14" rx="6" ry="5"/><ellipse cx="86" cy="31" rx="4" ry="5"/><ellipse cx="123" cy="50" rx="8" ry="6"/><ellipse cx="116" cy="40" rx="4" ry="4"/><ellipse cx="152" cy="60" rx="4" ry="7"/><ellipse cx="106" cy="78" rx="4" ry="3"/><ellipse cx="131" cy="22" rx="4" ry="3"/><ellipse cx="147" cy="8" rx="5" ry="4"/><ellipse cx="60" cy="46" rx="3" ry="3"/><ellipse cx="100" cy="62" rx="3" ry="4"/></g></g><g id="R2"><rect width="153.0" height="115.0" fill="#000"/><path d="M42.8 108.2h0M124.4 69.5h0M52 31.9h0M62 23.7h0M129.3 109.7h0M72.2 113.5h0M63.4 57.3h0M139.8 73.7h0M141.7 108h0M133.5 103.2h0M78.2 14.9h0M4.5 21.1h0M4.2 52.4h0M111 31.1h0M90.3 44.7h0M60.7 24.2h0M68.4 69.6h0M149.4 70.5h0M47.2 8.5h0M71 49.5h0M8 19.8h0M112.1 92h0M55.6 45.8h0M109 12.5h0M51.2 48.3h0M22.5 24.2h0M127.4 105.4h0M107.8 12.2h0M84.2 3.4h0M113.8 18.2h0M150.4 61.8h0M10 53.2h0M34.4 56.5h0M55.3 19.6h0M150.1 17.9h0M123.9 89h0M56.6 11.5h0M133.3 81.6h0M62.8 65.8h0M147 81.6h0M84.2 76.5h0M6.6 36.5h0M63.4 34.5h0M138.4 81.8h0M98.6 72.5h0M133.6 112h0M51.2 37.4h0M66.8 48.1h0M62.2 47h0M151.2 80.8h0M24.1 111h0M132.4 113h0M98 40.4h0M104.5 88.6h0M9.8 89.3h0M44.2 109.7h0M70.4 90.3h0M26.7 51.6h0M114.3 38.4h0M3.3 34.9h0M35.9 55h0M114.5 77.9h0M3.6 53.8h0M14.2 89.7h0M142.9 102h0M126.5 99.1h0M123.9 107.9h0M110.6 8.4h0M30.2 105.3h0M144.7 80.6h0M152.5 82.8h0M97.2 54.1h0M132 30.3h0M123.2 92.7h0M31.1 99.8h0M7.3 101.4h0M49.2 66.4h0M35.5 113.3h0M48.4 71.2h0M32.8 38.6h0M134.9 73.5h0M10.4 56.9h0M117.2 110.4h0M52.5 96h0M112 56.3h0M139.2 7.9h0M94.3 26.2h0M74.8 41.7h0M51.9 57.4h0M120.3 19.5h0M109.5 41.5h0M116.7 88.5h0M58 48h0M121.4 111.8h0M39.7 26.4h0M40.4 93.1h0M105 78.8h0M14.7 21.3h0M5.1 13.5h0M135 12.6h0M63.9 65.3h0M26.4 22.7h0M125 63.4h0M139.5 26.9h0M91.1 26h0M46.5 14.3h0M144.2 83.2h0M115.9 89.3h0M43 76.5h0M7.9 107.9h0M124.2 86.6h0M132.6 79.3h0M112.8 88.2h0M56.5 101h0M120 83.2h0M28.7 92.3h0M138.3 34.7h0M93.8 50.4h0M32.9 20.8h0M75.8 4.5h0M86.3 66.1h0M149.4 53.7h0M122.9 30.8h0M14.9 49.6h0M54.8 31.9h0M109.1 43.4h0M43.8 62.3h0M42.1 98.2h0M141.9 25.6h0M61.1 41.9h0M9.3 23h0M43.9 31.6h0M147 102.2h0M18.1 45.4h0M6.2 23.8h0M38.7 3.3h0M85.1 84.7h0M132.8 111.7h0M69.8 4.3h0M45.8 14.9h0M128.4 26h0M125.6 81.9h0M7.3 72.8h0M58.9 96.6h0M124 39.5h0M17.2 20.8h0M32.7 4.8h0M128.9 66h0M107.2 104.9h0M24.7 26.2h0M120.1 35.6h0M51.3 9.9h0M140.5 70.3h0M112.8 28h0M11.1 57.5h0M94.3 111.1h0M6.5 82.5h0M16.3 103.6h0M82.2 37.6h0M68.9 20.7h0M100.4 106.1h0M0.9 3.8h0M19 106.2h0M17.4 69.6h0M6.5 101.1h0M112 113.7h0M34.2 34.9h0M132.4 104.9h0M117 42h0M101.1 3.5h0M93.3 96.5h0M106.4 76.2h0M82.6 46.2h0M10.2 64.1h0M59.7 99.2h0M55.3 38.7h0M0.8 58.9h0M76.5 15.9h0M76.2 21.2h0M85.4 60.7h0M26.9 51.3h0M65.3 31.6h0M59.8 14.3h0M113 77.3h0M12.5 17.4h0M105.3 89.7h0M114.1 41.9h0M77.4 28.9h0M130.8 35.8h0M46.9 27.1h0M85.8 8.8h0M8.6 26.9h0M113 72.3h0M56.1 38.5h0M78.5 79.2h0M106.7 12.9h0M87.7 102.4h0M28 35.6h0M29.2 53.6h0M79.4 71h0M147.1 15.8h0M39.1 68.6h0M109.2 88h0M137.2 47.3h0M35.3 113.7h0M91.6 24.3h0M66.2 112.2h0M102.2 107.7h0M10.4 102.9h0M132.9 105.4h0M86 57.4h0M70.7 41.5h0M54 16.9h0M90.7 52.1h0M68.7 65.8h0M1.4 21.8h0M121.4 80.2h0M136.3 98.6h0M141.9 89.3h0M90.3 18.1h0M92 35.3h0M138.4 106.6h0M60.7 100.7h0M103.9 66.8h0M89.2 51.8h0M26.7 102.8h0M53.1 87.6h0M90.7 28.3h0M79.4 114.4h0M140.6 74.3h0M145.3 71.1h0M95.1 14.2h0M15.7 102.6h0M81.7 20.7h0M149.5 16.5h0M148.1 6.6h0M38.4 94.1h0M13.4 26.1h0M85.3 0.7h0M28.7 51.8h0M142.2 100.3h0M82.9 4.5h0M77 108h0M22.1 23.4h0M58.9 58h0M138.7 110.8h0M127.5 99.3h0M73.3 14.8h0M13.5 56.6h0M82.8 77.2h0M116.1 4h0M108.4 80.2h0M151.1 96.4h0M50.4 107.3h0M148.5 47.1h0M118.7 62.3h0M111.3 82.7h0M36.2 112h0M29.8 75.1h0M122.8 104.3h0M127.7 11.8h0M70 84.3h0M72.1 13.7h0M150.9 46.9h0M117.1 32.8h0M135.8 56.1h0M110.2 59.7h0M60.5 84.8h0M27.1 4.7h0M90.4 42.4h0M124.5 112.8h0M131 61.5h0M11.6 103.6h0M82.7 76.6h0M63.4 90.5h0M84.5 113.2h0M14.9 13.1h0M131.7 37.5h0M42.3 18.3h0M130.9 70h0M101.7 53.4h0M49.5 24.4h0M83.1 16.2h0M77.3 25.9h0M40.5 2.3h0M52 70.8h0M149 57.7h0M140.7 73.2h0M151.4 16.7h0M9.1 70.6h0M54.1 53.5h0M147.3 77.3h0M4.7 67.5h0M137.3 81h0M144.6 65.7h0M80.9 21.9h0M98 29.7h0M81.6 112.6h0M119.9 107.9h0M38.4 39h0M10.5 31.8h0M15.7 101.1h0M66.4 60.6h0M35 86.2h0M29.2 85.9h0M46 75.3h0M19 56.9h0M37.8 89.3h0M59.3 11.8h0M86.6 47.1h0M4.3 89h0M73 8.9h0M84.1 4.8h0M103.9 49.8h0M116.8 1.8h0M149.4 110.6h0M53.1 39.8h0M152.5 56.3h0M37.9 3.9h0M116.5 2.6h0M5.2 55.8h0M8.8 27.7h0M58.8 37.6h0M98.3 77.2h0M82.7 102.7h0M107.2 79.4h0M48.2 92.7h0M151.1 92.9h0M93.3 39.8h0M47.4 36.2h0M72.8 15.5h0M140.1 61.9h0M35 12.6h0M48.4 37.4h0M28.1 12h0M120.6 23.5h0M26.8 70.4h0M135.6 6h0M151.5 34.3h0M43.5 53.6h0M130.7 91.5h0M137.5 105.2h0M88.8 17.9h0M45.8 65.7h0M26.2 80.5h0M122.1 100.4h0M65.2 65.3h0M89.1 20.6h0M48.6 4.6h0M53.5 4.9h0M71.3 98.5h0M92.9 6.8h0M50.3 64.9h0M152 93.6h0M146.9 102.8h0M124.4 92.2h0M109.1 66h0M103.8 57.9h0M126.8 69h0M11.5 42.2h0M48.9 60.9h0M24.1 1.9h0M117.1 67.2h0M137 55.8h0M19.3 111.8h0M89.4 69h0M7.8 37.1h0M132.3 25.4h0M84.4 71h0M12.2 50.9h0M35.5 48.5h0M39.1 28.8h0M36.8 17.5h0M143.9 109.9h0M13.4 70.5h0M35.6 70.8h0M25 49.6h0M34.2 5.1h0M56.9 2.9h0M52.4 62.6h0M41.2 85.7h0M121.2 98.4h0M112.9 6.6h0M7.8 23.3h0M116.2 81h0M62.5 93.9h0M1.8 48.1h0M48.8 101.3h0M134.6 88.1h0M19.8 112.5h0M9.7 103.7h0M63.3 1.5h0M15.7 7.7h0M40 85.2h0M73.3 74.8h0M68 91.1h0M68.1 38.6h0M47.6 8h0M45.4 17.7h0M22.7 19.6h0M124.9 88.9h0M135.9 90.2h0M47.8 43.8h0M68.2 74.3h0M103.3 72.4h0M49.4 45.5h0M131.6 0.8h0M3.4 101.5h0M139 62.8h0M148.1 64.5h0M31.6 83.5h0M129.7 89.5h0M78.1 81.6h0M140.4 70.1h0M28.2 100.8h0M80.5 109.5h0M63.8 112.8h0M26.8 51.7h0M56 11h0M134.1 51.5h0M9.4 14.4h0M72.2 113.2h0M49.3 85h0M137.9 46.2h0M113.1 92.2h0M19.2 62.6h0M143.6 102.4h0M1.1 38.7h0M138.5 104.8h0M126.7 69.9h0M67.8 22.2h0M32.3 37.1h0M61.2 61.7h0M24.3 52.7h0M47.9 0.8h0M93.2 86.7h0M57.6 62.9h0M109.1 59.2h0M113.3 80.9h0M114.2 76.3h0M114.9 61.5h0M116.2 78.7h0M139.2 28.2h0M64.1 104.4h0M123.9 35.1h0M89.4 94.7h0M105.7 114.4h0M101.3 40.5h0M97.1 36.4h0M66.2 92.9h0M69.1 96.2h0M84.9 98.9h0M3.1 104h0M65.1 10.9h0M109.3 91h0M93.5 112h0M110.4 52.6h0M6.6 78.7h0M107.2 71.3h0M49.6 75.3h0M113.1 54h0M146.1 32.3h0M64.2 101.7h0M140.1 54.8h0M92.2 12.3h0M2.7 99.2h0M133.8 112.6h0M84.6 20.1h0M71.9 1.7h0M43.2 83.9h0M141.3 95.2h0M70.7 61.4h0M48.3 31.3h0M74.8 96h0M22.2 10.3h0M144.8 28.5h0M78.1 35.5h0M123.1 21.5h0M62.5 99.4h0M13.7 46h0M112.9 67.2h0M19.1 84.1h0M126.1 55h0M104.9 39.8h0M150.2 27.6h0M82.1 96.7h0M56.5 100.1h0M42.8 61.4h0M91.3 112.7h0M38.7 69.2h0M42.2 4.7h0M26.1 79.5h0M54.8 40.6h0M137.1 107.4h0M97.5 32.2h0M148.7 93.6h0M85.7 43.2h0M146.3 60h0M7.4 23.8h0M56.7 109.9h0M37.1 58h0M10.2 92.7h0M23.4 63.9h0M100.2 104.5h0M40 43.8h0M0.7 44h0M84.3 17.4h0M25.8 108.9h0M100.3 62.1h0M127.6 87.2h0M38.8 104.6h0M150.5 72.5h0M51.4 5.1h0M112.1 51.6h0M44.7 2.5h0M38.3 104.9h0M137.7 73h0M136.7 103.9h0M119.8 83.2h0M126.3 14.8h0M48.3 44.7h0M49.1 59.8h0M83.7 68.5h0M114 45.7h0M113.1 76.7h0M99.4 60.7h0M97.3 76.3h0M150.9 90h0M57.1 43.9h0M96.2 113.9h0M136.1 107.2h0M140.4 34.4h0M10.7 81.9h0M48.1 40.7h0M3.1 6.3h0M25.2 92.3h0M110.9 28.1h0M46 87.8h0M45.5 88.9h0M97.2 20.2h0M138 12.7h0M139.1 66.7h0M45 80.8h0M67.5 91.6h0M108.9 41.2h0M75.7 47h0M20.2 10.3h0M4.5 79.3h0M39.5 36.4h0M132 80.1h0M103.2 37.1h0M89.9 39.4h0M30.4 46.6h0M72.9 24.9h0M108.1 1.2h0M129.6 87.7h0M101.7 9.5h0M128.3 95.5h0M58.2 94h0M54.8 24.4h0M122.9 38.6h0M151.2 48.3h0M113.9 62.8h0M10.2 25.7h0M33.3 110h0M88 37.2h0M87.3 68.1h0M56.1 113.3h0M110 90.9h0M93.1 110.9h0M95.1 94.1h0M146.2 7.3h0M90.7 16.3h0M105.9 41.1h0M78.9 17.9h0M33.9 32h0M74.2 96.3h0M36.8 1.2h0M62.3 58.1h0M61.1 75.2h0M129.5 31h0M70.1 13.5h0M32.7 92.3h0M144 63.2h0M118.2 79.7h0M28.6 6.1h0M121.7 13.1h0M22.7 54.7h0M6.8 25.6h0M53.8 32.2h0M18.1 47.4h0M88.4 76.5h0M28.4 105.8h0M56.6 25h0M149.1 97.4h0M97 2.3h0M126.2 64.4h0M35.3 20.2h0M13.4 108.8h0M119.6 78h0M133.4 4.8h0M67.3 15.8h0M65.6 101.3h0M29.3 31.1h0M32.9 39.9h0M36.5 64.9h0M2.8 33.6h0M73.4 79.9h0M17 3.2h0M135.3 45.7h0M43.7 106.9h0M54.7 39.4h0M93.8 70.5h0M142.8 95.3h0M89.3 111.2h0M54.6 46.6h0M94.8 81.9h0M93.9 94.5h0M56.6 109.7h0M53.4 36.8h0M126.3 78.4h0M142.4 27.4h0M5.1 95.6h0M32.2 91.5h0M51.4 17h0M27.6 114.3h0M106.8 38.1h0M135.9 54.5h0M139 80.4h0M22.2 7.9h0M58.8 53.7h0M40.3 75h0M112.6 81h0M108.9 68.9h0M65.9 47.5h0M132.5 48.7h0M20.3 67.1h0M5.5 109.8h0M52.5 74.4h0M115.6 32.6h0M91.2 102.5h0M56.6 54h0M92.9 55.3h0M138.9 1.7h0M109.2 10.7h0M69.1 5h0M88.5 50.7h0M116.4 28.2h0M98.8 52.6h0M115 5.8h0M43.1 16.5h0M7 99.2h0M143.7 91.7h0M1.1 72.5h0M75.8 23.8h0M40.5 95.9h0M110.8 3.3h0M1.2 72.5h0M111.1 30.7h0M38 64.3h0M40.9 81.4h0M57.4 80.2h0M126.2 23.2h0M82 54.8h0M84.5 3.8h0M39 84.8h0M105.8 58.1h0M24.4 43.2h0M122.1 50.6h0M42 77.2h0M73.6 101.7h0M1.4 13.3h0M9.2 70.5h0M83.4 109.3h0M63.1 13.9h0M127.4 90.2h0M86.2 90.3h0M59.4 81.6h0M131.6 94.5h0M92.5 71.4h0M105.8 47.8h0M108.8 102.4h0M56.9 3.4h0M37.7 98.3h0M4.1 57.9h0M94.9 13.2h0M41.1 107.5h0M5.2 69.2h0M78.7 40.8h0M89.9 18.6h0M38.3 57.9h0M73.4 93.3h0M29.8 15.6h0M87.7 97.4h0M118.1 85.6h0M83.2 49.7h0M146 103.7h0M131.6 77.9h0M58.8 11.4h0M95.6 57.2h0M38.7 90.9h0M119.9 42.5h0M136.2 106.4h0M68.9 7.1h0M52.9 21.7h0M122.4 50.2h0M20.7 101.8h0M31.5 40.4h0M83.4 39h0M13.1 30.2h0M51.9 41.2h0M106.3 54.5h0M149.9 73.9h0M19.4 63.2h0M39.1 102.5h0M107.8 60.4h0M6.4 104.4h0M40.3 59.6h0M75.3 103.7h0M80.8 47h0M35.3 56.7h0M72.9 91.4h0M55.1 102.7h0M144.4 111.3h0M44.7 108.5h0M72.2 85.1h0M151.4 29.7h0M57.8 64.8h0M111.5 24h0M25 14.5h0M11.7 40.7h0M137.8 15.4h0M90.5 77.8h0M77.1 92.4h0M138.4 110.8h0M37 82.8h0M108.5 25.7h0M139 11.6h0M150.6 84.2h0M59.3 59.3h0M74 42h0M2.4 28.4h0M76.1 28h0M87.8 36.3h0M50.4 24.1h0M38.2 25.2h0M70 52.3h0M129.9 27.3h0M49.8 58.7h0M138.3 39.6h0M129.7 0.9h0M27 87.4h0M113.9 82.1h0M45.6 55.3h0M98.4 9.1h0M9.2 72.1h0M35.1 32.4h0M7.5 50.8h0M135.4 97.7h0M81 90.7h0M108.1 47.4h0M81.5 47.5h0M39.7 111.1h0M78.9 106.1h0M76.9 68.8h0M149.8 45.6h0M88.6 22.2h0M146.5 108.2h0M60.7 54.2h0M69.4 108.5h0M127.3 24h0M138.9 67.9h0M31.4 56.6h0M142.6 22h0M33.3 51.9h0M35.9 26h0M21.1 2.9h0M94 8.3h0M70.7 45.5h0M128.7 96.3h0M67.3 4.3h0M40.8 70.1h0M29.4 3.7h0M133.1 26.1h0M27.4 106.5h0M102.7 9h0M44.7 62.2h0M42.5 106.2h0M68.7 107.6h0M134.1 94.1h0M149.2 31.3h0M89.6 112.6h0M109.7 71.7h0M131 27.2h0M18.2 47.3h0M118.1 51.1h0M27 60.4h0M140 22h0M75.2 77.8h0M93.4 33.8h0M123.9 15.6h0M139.9 111.2h0M22.1 91.1h0M5.4 85.3h0M10 58.3h0M41.9 37.3h0M86.3 0.6h0M115.7 7.2h0M81.6 11.2h0M32.9 90h0M129.9 88.9h0M112.9 73.4h0M134.7 34.1h0M40.7 89.6h0M121.2 57.1h0M31 106.1h0M83.7 75.6h0M22.5 113.2h0M83.2 5.3h0M87.4 90.3h0" stroke="#1cec1c" stroke-width="2.7" stroke-linecap="round" fill="none"/><path d="M113.2 3.7h0M55.8 9.1h0M74.4 58.6h0M92.1 100.8h0M146.7 76h0M28.7 26.9h0M39.4 109.3h0M130.1 77.4h0M26.9 83h0M12.2 63.6h0M36.7 54.5h0M54.8 0.5h0M103.8 96.7h0M130.3 27.7h0M88.9 81.3h0M92.9 17.8h0M97.4 71.2h0M87.2 80.4h0M107.4 38h0M56.8 64.9h0M38.9 97.9h0M79.8 56.2h0M127.4 20.6h0M133.6 81.6h0M45.2 38.9h0M84.4 58.9h0M46.1 28.7h0M59.9 19.8h0M121.6 13.7h0M140.4 86.5h0M125 80.3h0M124.9 112.6h0M72.2 70.7h0M72.1 64.4h0M31.7 108h0M121.5 54.7h0M118.8 46.6h0M11.9 29h0M78 104.8h0M7.8 42.5h0M20.8 55.1h0M17.2 75.3h0M49.5 11h0M135.2 61.2h0M127.3 38.8h0M8.1 78.8h0M34.4 91.7h0M126.2 81h0M36 13.3h0M149.4 94.7h0M107.4 83.4h0M144.3 110.3h0M110.4 7h0M57.8 7.2h0M19.3 65.6h0M22.1 44h0M32.3 22.6h0M45.1 67.9h0M47.9 73.3h0M116.7 74.6h0M107.4 33.5h0M122.5 48.9h0M16.6 42.1h0M22.6 3.4h0M51.4 4.7h0M117.1 15.7h0M119 108.4h0M4.7 80.4h0M40.6 29h0M5.7 81.3h0M12 82.5h0M79.4 60.6h0M145.4 85.7h0M58 106h0M66.8 28.5h0M93.2 99.8h0M57.6 9.6h0M142.1 88.4h0M30 108.9h0M33 37.9h0M70.4 59.8h0M51.8 13.2h0M120.1 40.4h0M46.2 90.6h0M27.8 45.3h0M130 51h0M116.6 59.7h0M21.1 101.6h0M31 106.1h0M91.3 99.1h0M116.9 5.4h0M106.1 45.3h0M98.9 71h0M11.7 110.5h0M109.6 91h0M68.2 22.8h0M120.2 102.6h0M38.7 106.9h0M1.2 44.1h0M107 25.4h0M47.1 57.9h0M84.5 3.8h0M120.2 51.9h0M77.6 48.7h0M9.8 104h0M61.3 77.8h0M144.2 5.5h0M90.1 50.8h0M58.6 71.9h0M77 52.1h0M98.4 56.6h0M0.5 112.7h0M5 68.6h0M114.4 42.1h0M123.3 0.7h0M102.6 12.7h0M148.9 110.7h0M136.3 62.9h0M33.3 109.1h0M52.1 99.5h0M106.5 96.1h0M3.9 94.9h0M101.2 89.9h0M6.6 56.5h0M11 57.9h0M73.2 92.7h0M26.7 108.4h0M10.5 78.9h0M113.9 95.8h0M52.9 83.8h0M30.9 100.2h0M115.6 80.4h0M147.5 24.8h0M131.2 19.6h0M58.7 73.7h0M60 82.3h0M63.3 18h0M10.1 67.3h0M27 43.2h0M101.6 63.3h0M100.8 52.4h0M11.5 89.8h0M53.6 87.5h0M37.4 59.1h0M74.2 82.9h0M4.7 77h0M122.3 102.9h0M109.4 97.9h0M138.3 34.5h0M45.1 101.6h0M80.9 112.2h0M42.2 13.1h0M17.9 43.4h0M25.7 33.1h0M1.7 69.4h0M59.3 70.9h0M150 15.2h0M73.3 79.9h0M72.6 69.8h0M109.1 100.5h0M94.8 80.6h0M76 64.1h0M127.5 54.6h0M2.7 94.3h0M39.2 10.9h0M49.7 30.5h0M76.1 2.5h0M36.7 114h0M27.2 21.8h0M124.4 53.6h0M87.9 10h0M48.5 113.2h0M75.4 57.4h0M50.3 7.6h0M43.2 39.1h0M57.8 101.3h0M107 5.3h0M54.3 28.9h0M29.5 105.3h0M109.8 37.4h0M117.6 85.2h0M122.9 11.8h0M73.2 66.8h0M9.3 35.6h0M113.3 68.4h0M99 37.1h0M44.2 2.5h0M118.2 33.2h0M36.9 70.8h0M101.1 11.9h0M104.4 74.9h0M44.5 73h0M80.9 68.4h0M48 38.9h0M65.2 11h0M17.9 50.2h0M43.5 53.8h0M9.7 23.7h0M57.8 56.8h0M86.2 60.9h0" stroke="#60ff60" stroke-width="1.5" stroke-linecap="round" fill="none"/></g><g id="R3"><rect width="153.0" height="115.0" fill="#000"/><path d="M51.6 98.2h0M46.5 47.1h0M33.8 51.7h0M4 63.3h0M29.1 8.6h0M106.5 64.8h0M80.7 22h0M132.1 2.9h0M15.2 46.3h0M37.9 46.2h0M139.9 108.3h0M34 24.5h0M52.1 34.9h0M15.2 79.2h0M15.6 47.3h0M17.1 95.4h0M51.8 14.5h0M109.9 25.3h0M43.2 43.6h0M42.6 55.2h0M22.9 32.2h0M90.4 51.1h0M16.4 70h0M101.2 72.3h0M64.6 61.2h0M50.1 102.5h0M70.1 82h0M105.3 50.5h0M24.4 45h0M109.7 42.4h0M22.6 50.9h0M109.8 108.6h0M117.1 20.9h0M37.5 76.4h0M42.9 38.3h0M130.9 112.1h0M131.1 87.3h0M82.3 25.7h0M56.1 32.1h0M86.8 23.5h0M136.1 43.6h0M76.2 108.7h0M103.9 80.4h0M6.8 105.9h0M70.7 3.5h0M68.1 112.8h0M60.1 65.6h0M65.3 111.4h0M117.5 59.9h0M35.2 22.9h0M42.8 104.3h0M48.7 89.3h0M135 75.6h0M74.6 92.7h0M142.1 75.8h0M107.8 94.9h0M6.3 41.3h0M116.7 53.9h0M77.1 31h0M123.5 87.2h0M10.2 32.7h0M63.6 51.1h0M119.4 90.5h0M123.8 17h0M30.6 36.8h0M119.3 11.1h0M140 11.4h0M31.2 39.4h0M146.7 33h0M32.8 19.4h0M101.1 3.3h0M21.1 107.6h0M98.5 49h0M111.2 102.5h0M10.1 94.7h0M10.4 104.3h0M87.5 108.6h0M151.3 43.3h0M16.2 25.7h0M101.7 90.9h0M152.1 18h0M9.9 55h0M85 92.4h0M64.8 15.5h0M101.1 111.8h0M124.8 79.3h0M29.6 56.3h0M18.6 63.1h0M129.9 94h0M58.6 34h0M145.7 80.8h0M81.8 76.6h0M7.2 86.2h0M85.9 88.6h0M26.2 57h0M28.8 90.8h0M29.9 18.3h0M31.4 53.3h0M38.5 42.7h0M137.9 38.8h0M3.6 15.8h0M140.5 1.8h0M21.6 7.9h0M91.2 83.7h0M116 31.6h0M54.3 111.3h0M111.2 69h0M7.2 39h0M4.2 11.7h0M54 15.8h0M70.3 77.7h0M18.2 64.9h0M4.5 26h0M15.2 75.7h0M83.2 102.1h0M84.9 77.6h0M143.9 98.6h0M131.1 71.2h0M90.5 97.4h0M106.3 24.6h0M84 109.1h0M114.9 10.4h0M98.2 101.1h0M57.1 51.4h0M27.8 110.1h0M109.6 23.6h0M61.8 68.2h0M91.6 25.7h0M77.8 70.4h0M128.8 51.7h0M135.5 15.5h0M126.1 52.1h0M98.2 55.5h0M112.5 17.7h0M79.8 68.2h0M17.4 57.3h0M115.3 4.5h0M136.1 84.6h0M9.3 110.7h0M20 16h0M135.7 106.3h0M73.8 37h0M46.8 31.5h0M123.5 42.2h0M54.1 100.4h0M99.7 77.5h0M89 44.6h0M146 18.4h0M57 105.6h0M1.2 80.2h0M70.4 90.5h0M143.7 11.2h0M25.8 98.9h0M92.3 3.9h0M19 5.9h0M41.1 82.8h0M21.5 85.7h0M66.5 74.6h0M109.5 90.2h0M133.4 102.5h0M102.6 110.3h0M69.1 62h0M14.8 91.6h0M30.6 44.7h0M80.1 8.3h0M110.6 38.8h0M132 100.2h0M14.7 3.7h0M93.1 101.4h0M125.4 40.8h0M122.3 12.4h0M114.6 14h0M44.4 38.8h0M90 95.4h0M19.5 19.1h0M8.3 29.7h0M66.3 110.6h0M80 28.8h0M64.3 79h0M117.6 58h0M26.7 58.3h0M122.3 101.6h0M17.2 42.5h0M7.8 109.5h0M3.7 93.9h0M96.2 111.1h0M11.5 69h0M35 73.5h0M49.7 2.3h0M5.4 6.7h0M77.4 13.8h0M30 71.7h0M36.8 10h0M128.2 50.7h0M73.8 45.1h0M106.7 48.7h0M106.8 92.1h0M10.6 61.6h0M126.3 111h0M41.9 4.6h0M55.3 56h0M39.7 10.9h0M111.3 5.1h0M74.3 12.4h0M150.4 69.4h0M93.8 45.1h0M25.5 87.6h0M15.2 30.2h0M129.5 65.9h0M55.6 23.7h0M34 99.6h0M50.6 47.1h0M140 94.7h0M43 25.1h0M17.5 16.9h0M17.1 99.2h0M92 59.1h0M82.3 39.8h0M6.9 31.2h0M14.5 55.4h0M107.6 101.3h0M104.9 67.6h0M82.8 70.2h0M146.3 99.9h0M17.6 47.5h0M116 38.3h0M152.5 96.1h0M4 100.7h0M73.3 1h0M100.1 33.4h0M130.5 46.4h0M128.5 66.6h0M80.3 92.4h0M138.3 69.1h0M14 107h0M40.7 62.2h0M80.5 4.6h0M149.6 11.8h0M134.7 87.6h0M100.6 96.4h0M92.5 8.6h0M64.2 63.8h0M91.3 89.3h0M143.2 86.6h0M116.5 112.6h0M23.1 0.8h0M43.9 24.2h0M73.1 3.7h0M82.2 28.7h0M39.1 43.1h0M101 63.8h0M101 26.1h0M43.5 66.1h0M44.3 95.7h0M0.9 60.4h0M55.1 1.8h0M62.1 46.4h0M139.6 19.3h0M56.3 25.6h0M86.5 74.4h0M102.2 98.8h0M63.8 56h0M137.3 82h0M57.1 32.1h0M120.2 26.1h0M51.7 62.9h0M92.7 106.4h0M38.2 6.4h0M96.9 65.9h0M3.9 56.4h0M69.6 63.1h0M43.7 59h0M133.3 66.6h0M77.5 27.2h0M55.9 26.6h0M42.1 91.4h0M99.5 91.3h0M95.6 29.6h0M97.9 34.1h0M65.6 45.3h0M109.9 7.2h0M68 80h0M149.4 71.7h0M38.4 56.8h0M40.4 35.2h0M102.7 38.5h0M133.7 99.4h0M25.8 75.2h0M6.7 2.3h0M133.4 74.5h0M45.6 7.2h0M116.8 85.7h0M126.5 14.7h0M24.3 109h0M71.7 76.7h0M110.9 108.8h0M32.4 109.3h0M44.6 91.1h0M8.5 82.4h0M36 91.5h0M79.3 91.4h0M65.1 50.9h0M32.5 7.6h0M32.8 104.8h0M2.4 77.9h0M42.8 69.7h0M29.5 54.1h0M66.3 112.8h0M124.2 112.2h0M33.1 9.5h0M61.9 101.9h0M123.5 49.6h0M78.1 35.8h0M118.2 13.6h0M32.6 68.8h0M144.2 2h0M13.3 105.4h0M76 8h0M82 18.7h0M104.5 40.7h0M140.5 31h0M90.1 45.5h0M79.3 47.2h0M109 38.2h0M6.3 44.3h0M4.1 35.6h0M123.8 84.5h0M45.7 47.6h0M61.9 21.6h0M97.7 106.4h0M53.9 109.1h0M129.6 47.7h0M146 9.9h0M132 18h0M39.6 49.6h0M5.7 33.1h0M5.6 21.7h0M122.5 46.9h0M41.6 75.1h0M31.5 13.1h0M15.7 98.4h0M13.3 103.1h0M139.2 99.7h0M4.7 16.1h0M71.5 84.5h0M14.5 6.6h0M3.4 13.3h0M147.7 90.7h0M116.1 85.1h0M45 19.3h0M23.5 34.8h0M24.3 6h0M45.2 88h0M80.9 45.3h0M60.6 85.3h0M79.2 5.1h0M55.2 101.5h0M50.1 64h0M6.8 0.8h0M110 25.2h0M22.8 38.7h0M138.8 112.7h0M109.4 37.8h0M106.7 69.6h0M59.7 62.4h0M87.8 18.8h0M7.6 41.5h0M146.2 8h0M122.3 11.9h0M150.6 71.2h0M88.7 23.5h0M125.8 22.3h0M6.9 87.1h0M6.7 25.1h0M86.4 52.2h0M8 20.6h0M106 72.8h0M61.8 44.1h0M59.6 112.3h0M83.8 110.9h0M148.7 76.2h0M110.4 94h0M58.3 17h0M70.9 29.7h0M93.9 30.5h0M45.9 77h0M19.8 94.2h0M95.8 81.2h0M82.3 45.1h0M26 89.5h0M62.9 88.1h0M94.8 21.1h0M126.8 95.1h0M28 105.9h0M138.2 76h0M24.8 22.5h0M51.8 94.7h0M39.8 53.7h0M108.8 13.4h0M51.7 30.6h0M28.7 71.2h0M96.3 106.7h0M147.2 34.1h0M11.3 74.2h0M52.8 6.2h0M105.6 42.9h0M126.9 14.9h0M105.9 2.7h0M78.8 66.2h0M123.2 44.7h0M136.5 39.4h0M132.7 113.9h0M23.3 101h0M121.8 42.8h0M39.3 97.9h0M47.7 14.4h0M119.7 7.5h0M32.4 76.2h0M137.5 104.4h0M94.8 9.4h0M142 61.4h0M91.8 34.4h0M34.8 19.9h0M124.9 56.6h0M48.4 113.7h0M115.2 39.3h0M136.8 85h0M44.7 58.8h0M30.3 93.3h0M32.8 30.3h0M79.6 27.7h0M7.4 85.6h0M114.7 43.1h0M27.4 105.4h0M32.1 85.3h0M129.2 41.3h0M137.7 40.9h0M32.9 69.6h0M17.7 4.2h0M86.8 68.6h0M115.4 75h0M18.8 57h0M123 27.3h0M93.1 70.3h0M126 9.3h0M76.3 77.9h0M99.7 80.3h0M82.7 4.6h0M122.3 85.6h0M37.9 20.1h0M130.1 42.4h0M79.8 33.1h0M41.5 15.2h0M83.7 92h0M40.5 4.9h0M124.2 100.6h0M104.6 21.7h0M104.6 46.1h0M45.4 23.1h0M17.6 4.5h0" stroke="#0b8c0b" stroke-width="1.6" stroke-linecap="round" fill="none"/><path d="M44.6 102h0M68.8 80.2h0M29.1 34.8h0M57.7 25.6h0M81.7 43.2h0M152.4 58.8h0M10.5 87h0M70.6 34.1h0M72.1 37.8h0M133.6 88h0M124.4 104.3h0M62.6 52.2h0M43.8 90.5h0M100.6 82.8h0M118.4 85.4h0M95.2 38.7h0M81 64.9h0M104.6 9.8h0M124.6 46.3h0M112.8 93.1h0M69.6 69.5h0M63.8 57.2h0M6.2 86.2h0M96.7 19.3h0M133.6 94.9h0M52.8 87.9h0M15 40h0M104.8 25.6h0M98.9 34.5h0M70.3 22.4h0M54.4 109.7h0M87.4 85h0M128.3 1.1h0M103.5 14.4h0M131.8 49.9h0M134.4 27.4h0M18.1 79.5h0M28.4 108.3h0M110.6 11.4h0M116 65.2h0M128.9 11.5h0M128.3 112.1h0M131 25.9h0M36.6 105.9h0M76.1 77.2h0M71.9 52.4h0M74.1 93h0M131.1 41.5h0M18.3 63.6h0M41.5 79.4h0M35.7 2.8h0M142.6 7.9h0M69.5 92.7h0M116.1 59.2h0M147.6 112.5h0M34.3 79.4h0M152.3 101.5h0M11.1 19.1h0M70.1 32.4h0M56.8 70.9h0M141.6 97.5h0M123.9 23.4h0M145.7 87.9h0M48.2 13.6h0M144.7 69.8h0M112.6 62.5h0M42 95.6h0M130.7 87.9h0M125.9 77.1h0M152.4 95.3h0M43.5 57.1h0M88.7 9.3h0M26.8 55.6h0M25.4 73.9h0M91 107.4h0M84.5 75.4h0M117.7 53.1h0M122.9 100.8h0M107.3 29.6h0M61.7 19.2h0M35.2 106.7h0M133.9 37h0M34.6 1h0M117.1 51h0M50.4 83h0M91.9 82.3h0M146.3 67.6h0M64.2 68.2h0M133.7 83.1h0M96 65.5h0M131.2 105.7h0M73.7 65.8h0M68.5 36.6h0M124.2 59h0M141.7 66.9h0M12 89h0M145.8 99.5h0M1.9 63.4h0M128.9 95.2h0M12.2 99.5h0M68.6 62.3h0M132.9 76.4h0M131.4 97.9h0M83.3 29.9h0M109 103.1h0M35.1 16.5h0M28.8 4.9h0M124.2 13.8h0M36.3 47.3h0M10.3 72.8h0M31.1 101.3h0M94.3 31.5h0M147.2 33.1h0M139 30.3h0M19.6 66h0M136.1 45.5h0M12.3 53h0M136.3 30h0M140.3 82.3h0M18.6 46.2h0M27.4 69.7h0M5.7 61.6h0M2.6 108.8h0M131 73.6h0M41.2 22.4h0M97.9 34.2h0M135.8 30.7h0M57.5 42.1h0M114 57.4h0M8 77.4h0M62.2 24.9h0M151.2 50.3h0M104.8 112.8h0M143.2 4.6h0M13.6 2.8h0M91.8 27h0M133.7 93h0M100.4 54.3h0M28.3 97h0M57 29.5h0M98 88.9h0M141 93.5h0M138 101.7h0M103.5 3.7h0M131 56.9h0M95.3 68.4h0M132.7 110.8h0M82.3 69.2h0M80.9 54.3h0M7.6 3.8h0M125.4 72.4h0M147.9 21.6h0M116.8 40.3h0M96 39.3h0M9.7 101h0M106.6 73.1h0M59 16h0M31 82.5h0M37.2 68.6h0M82 5.5h0M139.3 78h0M148.8 110.9h0M142.9 98.2h0M110.8 20.9h0M30.2 35.4h0M12.9 80.4h0M121.4 50h0M45.6 112.1h0M60.8 77.9h0M88 22.5h0M133.6 73.6h0M91.2 32.1h0M80.5 73.8h0M10.1 34h0M6.8 52.4h0M90 11.8h0M99.9 39.5h0M45.1 80.3h0M5.8 15.9h0M75.9 94.8h0M79.5 33.4h0M50.8 112.7h0M97.2 7.6h0M99.6 107h0M19.7 41h0M9.4 5.8h0M76.5 83.4h0M67.1 67.6h0M116.5 21.3h0M121.2 103.4h0M40.5 85.4h0M72.3 23.4h0M120.2 59h0M24.7 75.2h0M119 52.1h0M67.3 31.2h0M12.5 89.9h0M25.3 71.4h0M28.9 106.7h0M26.7 35.9h0M8.5 42.9h0M66 96.8h0M7.4 102.2h0M50.1 90.3h0M61.8 93.6h0M59.4 104.7h0M13.7 57.5h0M138 62.8h0M53 97h0M49.2 30.7h0M47.2 101.8h0M41.3 95.8h0M136.3 67h0M90.5 31.5h0M88.6 92.3h0M53.7 42.3h0M4.5 7.5h0M149.2 42.4h0M4.5 1.6h0M62.9 81.8h0M21.4 99.3h0M42.8 104.1h0M32.9 49.4h0M50.4 4.3h0M28.7 53.3h0M51.7 18h0M24.4 64.9h0M125.7 82.4h0M142.6 98h0M135.2 54.9h0M103.1 15.6h0M83.3 96.6h0M41.6 92.1h0M109 13.1h0M20.9 44.2h0M36.8 19.7h0M87.7 85.8h0M140.8 107.4h0M96.5 102.9h0M47 98.3h0" stroke="#18cc18" stroke-width="2.0" stroke-linecap="round" fill="none"/><path d="M17.3 109.6h0M13.5 114h0M126.1 102.5h0M145.6 77.2h0M120.2 62.2h0M116.6 84.9h0M17.5 108.3h0M115.4 77.1h0M125.3 15.1h0M46.6 37.1h0" stroke="#20e020" stroke-width="3.6" stroke-linecap="round" fill="none"/></g></defs>
<svg x="11.2" y="1231.5" width="153" height="114.7" viewBox="0 0 153.0 115.0" preserveAspectRatio="none"><use href="#L1"/></svg>
<svg x="334.9" y="1233" width="152.7" height="114.5" viewBox="0 0 153.0 115.0" preserveAspectRatio="none"><use href="#L1"/></svg>
<svg x="10.7" y="1354.1" width="153.5" height="115.1" viewBox="0 0 153.0 115.0" preserveAspectRatio="none"><use href="#L2"/></svg>
<svg x="333" y="1354.15" width="154.1" height="115.95" viewBox="0 0 153.0 115.0" preserveAspectRatio="none"><use href="#L2"/></svg>
<svg x="10.9" y="1478.5" width="153.2" height="115" viewBox="0 0 153.0 115.0" preserveAspectRatio="none"><use href="#L3"/></svg>
<svg x="332.9" y="1479" width="154.2" height="115.7" viewBox="0 0 153.0 115.0" preserveAspectRatio="none"><use href="#L3"/></svg>
<svg x="171.3" y="1231.3" width="154.7" height="114.85"><rect width="154.7" height="114.85" fill="#000"/>
<path d="M3.6 35h0M13.6 81.5h0M13.3 21.3h0" stroke="#e01010" stroke-width="1.8" stroke-linecap="round" fill="none"/>
</svg>
<svg x="171.3" y="1354.15" width="154.7" height="116.1"><rect width="154.7" height="116.1" fill="#000"/>
<path d="M117.9 105.6h0M68.1 78.1h0M23.1 37.7h0M114.6 67.9h0M145.8 67h0M117.1 30.7h0M116.6 25.7h0M68.5 36.5h0M66.7 8h0M143.3 2.2h0M108.8 36.4h0M27.3 51.3h0M42.2 82.3h0M33.4 60.2h0M76.3 62h0M111 86.2h0" stroke="#e81010" stroke-width="1.9" stroke-linecap="round" fill="none"/>
</svg>
<svg x="171.4" y="1479" width="154.6" height="116.3"><rect width="154.6" height="116.3" fill="#000"/>
<path d="M65.9 83.5h0M132.2 115.9h0M42.6 78.5h0M136.9 33.5h0M76.3 109.5h0M17.9 103.4h0M71.3 77.5h0M125.4 65.7h0M89.6 84.5h0M133.6 76.7h0M102.7 3.1h0M28.3 107.9h0M29.6 52.4h0M136 116h0M4.2 93h0M15.3 104h0" stroke="#f01010" stroke-width="2.1" stroke-linecap="round" fill="none"/>
<path d="M147.2 40h0M82.5 5h0M46.7 33h0M27.9 69.9h0M0.5 6.4h0M12.3 68.2h0M58.8 94.9h0M111.7 40.7h0M105.2 43.1h0M113.9 41.8h0M88.3 57.1h0M1.5 38.2h0" stroke="#900808" stroke-width="1.2" stroke-linecap="round" fill="none"/>
</svg>
<g transform="translate(333 1354.15)">
<path d="M31.8 13.3h0M136 16.7h0M19.7 48.2h0M83.8 104.5h0M38.7 76.2h0M119.7 103.9h0" stroke="#d0a010" stroke-width="1.4" stroke-linecap="round" fill="none"/>
</g>
<g transform="translate(332.9 1479)">
<path d="M19.8 11.6h0M17.2 3.1h0M19.6 64.6h0M91.9 97.2h0M119.3 85.3h0M144.6 101.7h0M35.6 51.4h0M100.9 54.6h0M126.9 54.3h0M13.4 39.6h0" stroke="#e0a010" stroke-width="1.5" stroke-linecap="round" fill="none"/>
</g>
<svg x="514.2" y="1232" width="153.7" height="115.6" viewBox="0 0 153.0 115.0" preserveAspectRatio="none"><use href="#R1"/></svg>
<svg x="839.7" y="1232" width="153.3" height="115.5" viewBox="0 0 153.0 115.0" preserveAspectRatio="none"><use href="#R1"/></svg>
<svg x="514.2" y="1355.1" width="154.7" height="115.3" viewBox="0 0 153.0 115.0" preserveAspectRatio="none"><use href="#R2"/></svg>
<svg x="839.7" y="1354.8" width="153.6" height="115.5" viewBox="0 0 153.0 115.0" preserveAspectRatio="none"><use href="#R2"/></svg>
<svg x="514.3" y="1478.8" width="155.2" height="116.4" viewBox="0 0 153.0 115.0" preserveAspectRatio="none"><use href="#R3"/></svg>
<svg x="677.3" y="1232" width="153.35" height="115.3"><rect width="153.35" height="115.3" fill="#000"/>
<path d="M153 27h0M102.3 57.3h0M96 109.4h0M50.7 41h0M128.6 95.9h0M131.5 12.2h0M125.8 24.1h0" stroke="#e01010" stroke-width="1.8" stroke-linecap="round" fill="none"/>
</svg>
<svg x="677.3" y="1355.1" width="153.35" height="115.2"><rect width="153.35" height="115.2" fill="#000"/>
<path d="M41.4 83.2h0M101.9 51h0M11.1 69h0M35.6 103h0M142.8 36.6h0M145.2 41.9h0M46 49.2h0M67.3 66.7h0M101.8 27.8h0M117.8 51.4h0M130.5 55.6h0M96.5 5.2h0M36.8 90.8h0M80.3 61h0M31.9 113.7h0M36 48.9h0M133 47.4h0M29.6 64.7h0M145.3 21.3h0M117.5 58.9h0M93.7 70.8h0M144 92.1h0M140.8 67.9h0M139.2 84.4h0M71.2 65.7h0M136.8 46.9h0M114.6 26.5h0M56.7 65.8h0M7.6 81.3h0M152.8 33.7h0M115.5 34.5h0M10.9 23.7h0M11.3 48h0M101.1 90.9h0M62.2 1.9h0M76.7 74.9h0M73 75.3h0M83.3 70.7h0M124.6 10.5h0M133 5.3h0M87.8 91h0M94.1 1.5h0M61.2 85h0M128.9 76.3h0M120.3 36.7h0M98.6 68.1h0M151.6 84.1h0M143.1 59.6h0M63.8 40.1h0M25.5 111.4h0M70.5 12.4h0M86.3 71.1h0M13.5 74h0M106.8 78.4h0M39.6 106h0M73.5 68h0M88.5 60.3h0M123.2 45.2h0M106.4 4.3h0M72.4 7h0M73 94.5h0M151.4 92.7h0M67 87.9h0M91.8 25.3h0M43.3 59.8h0M98.4 32.7h0M130.5 31.2h0M41.1 32.3h0M33.5 17.7h0M35.6 81.1h0M24.1 5.9h0M49.9 36.3h0M91 104.6h0M149 82.3h0M29.4 85.7h0M55.7 55.8h0M86.2 54.5h0M151 63.4h0M88.7 50.5h0M22 58.2h0M124.8 111.9h0M86.2 85.9h0M133.7 74.2h0M105.4 115.2h0M63.8 97.9h0M151.6 77.6h0M106.4 4.3h0M16.2 45.6h0M133.4 50.9h0M27.6 104.7h0M20.8 57.5h0M101.8 7.9h0M153.3 104.1h0M109.6 22.2h0M26.5 88.7h0M105.7 105.1h0M63 20.1h0M85.3 27.9h0M17.2 79.2h0M69.9 56.9h0M48.9 9.6h0M32.9 15.7h0M66.5 48.2h0M84.4 89.9h0M87.7 55.5h0M30.9 63.5h0M47.7 74h0M85.2 9.4h0M84.3 68.3h0M3.8 108.6h0" stroke="#f41616" stroke-width="2.6" stroke-linecap="round" fill="none"/>
<path d="M18.8 44.5h0M85.2 90h0M121.2 68.7h0M148.2 49.8h0M93.8 48.7h0M7.5 64.1h0M128.4 103.4h0M152.4 64.9h0M30.8 75.8h0M83.5 59.8h0M14.7 40.8h0M126.1 84.1h0M3.6 8.8h0M127.3 82.2h0M81 6.8h0M1.7 89.5h0M93.3 90.7h0M113.4 112.6h0M44.1 63.9h0M121.6 99.7h0M49.9 65.3h0M85.6 72.7h0M93.1 76.7h0M107.6 114.5h0M9.1 49.6h0M58.5 13.2h0M100.9 7.8h0M30.3 27.8h0M151 17.9h0M153 85.4h0M56.7 99.4h0M103.4 56.3h0M16.8 1.8h0M113.2 70.1h0M48.8 15.7h0M6.7 89.2h0M21.2 97.8h0M17.2 65.8h0M15 50.8h0M100.5 95.7h0M61 39.9h0M148.7 69.1h0M45.1 77.3h0M5.1 53.9h0M113.6 95.8h0M7.3 66.5h0M64.1 0.6h0M50.6 17.4h0M113 2.8h0M127.5 81.8h0" stroke="#a00a0a" stroke-width="1.4" stroke-linecap="round" fill="none"/>
<path d="M117.3 19.6h0M98.4 115.2h0M26.6 108.8h0M28.6 66.5h0M0.5 54.9h0M38.2 86h0M26.5 33.1h0M75.4 94.4h0M140.3 71.4h0M61.2 16.7h0" stroke="#ff2020" stroke-width="3.8" stroke-linecap="round" fill="none"/>
</svg>
<svg x="677.3" y="1478.2" width="153.9" height="117.1"><rect width="153.9" height="117.1" fill="#000"/>
<path d="M127.8 62.6h0M34.5 22.8h0M63.8 83h0M65.1 103.6h0M26.8 79.5h0M76.6 107.1h0M67.2 6.1h0M53.6 81.9h0M89.5 2h0M86.8 63.3h0M81.2 100h0M76 30.2h0M80.8 95.9h0M140 25.1h0M112.1 44.2h0M70.4 14.5h0M52.4 42.3h0M84.4 68.6h0M27.1 60.6h0M71.6 95.9h0M79.5 11.8h0M121.9 1.8h0M142.3 15.1h0M14.3 47.1h0M70.2 98.1h0M114.6 100.8h0M90.6 92.5h0M11.1 35.4h0M114.7 75.3h0M3.3 1.4h0M25.7 23h0M126.7 14.4h0M115.7 115.1h0M16.1 43.9h0M121 41h0M123.5 13.6h0M37.2 45.1h0M151.9 16.2h0M11.7 1.1h0M108 10.5h0M136.1 29.9h0M35.9 8.3h0M60 2.9h0M7.3 76.5h0M122.4 13.3h0M74.4 33.3h0M34.7 61.8h0M55.1 80.9h0M59.8 2.9h0M17.4 60.4h0M128.9 36.2h0M113 2.6h0M138 75.4h0M2.7 64.6h0M71.9 20.5h0M124.7 59.4h0M150.5 62.1h0M144.1 55.1h0M55.1 40.4h0M1 22.7h0M62.4 94.1h0M127.5 90.8h0M80.7 80.3h0M7.1 14.9h0M72.6 74.2h0M21.4 24.4h0M109.2 26.7h0M56.5 58.5h0M7.6 3.4h0M26.3 32h0M28.6 50.7h0M60 91.3h0M139.2 46.6h0M133.5 43.6h0M132.1 17.4h0M70.3 115.2h0M63.1 78.8h0M41.1 91.5h0M83.9 116.5h0M70.1 84h0M100.4 73.3h0M94.1 51.5h0M23.8 30.3h0M131.2 115.3h0M92.2 111.6h0M128.1 12.2h0M10.2 50.8h0M96.6 35h0M142.2 102.5h0M94.6 75h0M15.6 13.5h0M126.9 86h0M121.3 44h0M117.2 82.4h0M86.1 43.6h0M115.6 107.8h0M127.1 32.6h0M35 22.4h0M16 96.7h0M18.2 79.4h0M86.7 80.4h0M84.2 0.3h0M10.4 73.1h0M11.4 35.9h0M60 102h0M148.9 6.5h0M98.7 105.3h0M22.2 51.5h0M98.6 106.6h0M124.1 30.2h0M9.3 71.3h0M116.3 113.3h0M150 89.4h0M69.5 59.4h0M52.9 27.9h0M140.1 104.4h0M136.8 74h0M24.7 23h0M1.5 96.9h0M139.3 17h0M99.2 26.9h0M97 111.3h0M56.4 35.1h0M36.2 76.5h0M85.2 78.8h0M42.1 62.9h0M64.3 48.3h0M18.8 86.2h0M85.5 7.8h0M149.3 49.4h0M2.8 26.2h0M9.9 58.2h0M140.3 19.9h0M149.2 20.9h0M3.2 116.4h0M129.8 6.3h0M77.1 99.9h0M18.5 23h0M41.3 61h0M131.9 31.6h0M55.9 83.8h0M100.3 23.7h0M89.5 68.7h0M16.5 40.1h0M39.7 33.6h0M16.4 70.4h0M77.2 95.7h0M44 95.9h0M6 91.4h0M55.4 73h0M110.5 16.8h0M5 62.3h0M118.4 26.6h0M47.6 99.8h0M105.1 85.8h0M147.7 79.9h0M60.7 1h0M141.2 113.2h0M17.5 11.6h0M18.7 18.4h0M35.1 112.4h0M31.3 72.6h0M117.3 26.5h0M112.3 87.2h0M140.5 114.1h0M146.5 80.8h0M105.6 23h0M102.1 51.6h0M46.4 2.9h0M92.6 114.8h0M34.4 67.5h0M122.2 64.4h0M143.5 97.7h0M84.4 2.9h0M48.2 104.6h0M61.4 14.3h0M94 45.1h0M87 1.1h0M125.7 46.8h0M16.4 72.7h0M135.7 20.4h0M0.5 65.7h0M15.1 37.8h0M71.2 58.3h0M129.4 76.8h0M138.2 91.1h0M66.7 99.2h0M17.5 56.7h0M43.3 72.4h0M17.4 86.1h0M139.8 10.1h0M108.7 18.8h0M40.7 92.7h0M49.1 70.7h0M39.3 56.6h0M136.7 112.7h0M88.4 23.8h0M102.3 14.7h0M135 8.7h0M5.6 1.5h0M119.2 112.2h0M152.6 94.2h0M26.7 99.9h0M69.6 47.5h0M31.2 17.1h0M85.4 85.2h0M145.7 85.5h0M110.6 58.9h0M30 8.1h0M32.7 105.9h0M43.6 34.4h0M78.6 67.8h0M65 16.1h0M153.6 68.8h0M20.9 45.5h0M19.2 27.8h0M52 61.1h0M119.1 25.4h0M55.9 115.4h0M32.6 30.2h0M151.7 47.3h0M59.1 53.7h0M34 95.4h0M99.8 4.2h0M84.6 78.2h0M99.8 115.2h0M48.9 1.4h0M144.9 74.2h0M150.9 13h0M83.9 43.6h0M109.3 4.4h0M30.6 13h0M84.4 59.3h0M128.4 45.6h0M139.5 75.1h0M153.4 4h0M110.1 20.1h0M151.1 0.3h0M123 110.2h0M9.9 5.1h0M59.5 48.7h0M66.7 11.4h0M19.4 101.7h0M55.4 59h0M36.6 114.6h0M141.1 58.1h0M19.1 15.5h0M118 87.1h0M120.2 38.5h0M34.9 40.5h0M143.1 46.4h0M112.1 95.2h0M15.5 42h0M130.7 24.3h0M73.6 88.7h0M25.2 79.5h0M33.8 40.2h0M59.3 100.5h0M144.9 97.8h0M71 48.1h0M145.5 43.2h0M66.9 111.5h0M0.1 62h0M136.5 58h0M103 87.3h0M131.8 59.8h0M3.1 40.8h0M97.4 18.3h0M111 106.8h0M137.9 12.3h0M127 73.1h0M104.3 51.8h0M76.3 17.8h0M119.4 72.6h0M43.6 91.3h0M9 67.6h0M118.8 14.7h0M105.1 22.5h0M95.6 98.3h0M47.5 74.1h0M104.5 97.2h0M147.8 13.3h0M97.1 4.7h0M56.5 83.3h0M144.8 79.5h0M150.8 3.2h0M21.5 2.9h0M85.8 107.6h0M14.1 11.6h0M68.9 105.3h0M125.1 61.9h0M44.7 18.7h0M67.6 74h0M25.7 108.5h0M145.4 85h0M133.8 97.7h0M20.5 36.6h0M79.4 48.7h0M97.2 29.8h0M3.4 76h0M38.9 14.1h0M40.7 57.1h0M90.3 64h0M99.9 54.6h0M86 11.5h0M137 6.9h0M100.8 38.7h0M3.8 78.9h0M117.6 72.7h0M79.6 65.6h0M24.1 23.6h0M39.5 6.7h0M105.9 19.3h0M94.8 14h0M28.5 77.9h0M52.4 3.7h0M128.1 105.3h0M52.8 116.2h0M148.6 0.7h0M117.4 14.5h0M73.2 25.9h0M78.5 46.4h0M129.4 19.7h0M92.8 12.9h0M139 41.1h0M60.8 36.4h0M137.9 80.6h0M137.6 88.5h0M16.5 85.4h0M27.9 44.3h0M28.1 67.5h0M28.4 31.8h0M149.2 58.4h0M81.4 106.4h0M56.6 56.4h0M140.5 89.8h0M129.6 61.8h0M19 34.6h0M65.1 4.7h0M27.9 67.2h0M129.3 49.4h0M87.2 77.5h0M98.3 91.9h0M9.4 95.9h0M78.8 55.7h0M127.9 34.6h0M79.7 60h0M29.2 55.6h0M92.9 70.3h0M5.3 24.6h0M77.2 69.9h0M52 30.1h0M7.5 49.4h0M134.2 0.5h0M138.6 4.2h0M88.2 53h0M34 20.6h0M28.3 73.6h0M101.1 94.6h0M48.9 21.6h0M79.1 109.3h0M130.9 104.6h0M100 107h0M45.8 115.5h0M85.1 101.1h0M64.8 5.9h0M21.4 88.8h0M69.5 51.4h0M106 47.1h0M124 83h0M69.5 53.8h0M84.2 63.1h0M64.3 6.4h0M94.5 113h0M132.8 49.9h0M45.7 71.1h0M33.9 23.6h0M101 54.9h0M148.1 12h0M100.2 97.1h0M85.2 52.9h0M72.9 20.5h0M91.1 102.2h0M16.1 66.4h0M19.8 59.9h0M2.2 60.7h0M30.5 75.8h0M132.5 107.8h0M30.7 24.6h0M72.5 69.1h0M11.7 51.8h0M126.7 112.1h0M79.6 22.3h0M41.9 111.9h0M93.4 17.9h0M153.7 80.9h0M16.5 44.9h0M10.1 43h0M151.2 70.2h0M83.1 101.4h0M18.6 55.5h0M71.3 32.2h0M140.2 52.4h0M148.4 44.2h0M22.7 92.3h0M28.1 92.2h0M69.2 40.5h0M96.9 106.3h0M133.1 90.1h0M85.1 114.3h0M83.9 45.9h0M11.9 24.6h0M20.1 53.6h0M125.6 4.3h0M11.6 42.1h0M122.8 26.6h0M123.7 108.3h0M80.2 61.4h0M45.5 32.6h0M134.1 104.8h0M150.5 8h0M16.4 100h0M151.9 78.1h0M67.8 116.2h0M47.3 79h0M3.6 33h0M84.8 101.5h0M10 65.4h0M97.6 41.8h0M120.8 59.8h0M50.2 109.5h0M81.5 26h0M100.6 29.9h0M86.4 4.8h0M8.2 34.1h0M153.6 7.1h0M139.4 39h0M6.3 65.1h0M137.3 34h0M62 21.3h0M13.2 24.2h0M78.2 100.1h0M146.3 55h0M29 7.2h0M118.6 107.3h0M51.8 2.6h0M85.6 107.7h0M128.2 90.9h0M69 80h0M110.1 34.2h0M113.9 116.1h0M16.6 112.2h0M87 8h0M24.9 20.4h0M112.6 47.4h0M124.9 62.3h0M127.5 10.2h0M50.9 48.7h0M54.2 34.2h0M19.4 60.5h0M75.3 73.8h0M4.3 5.9h0M3.8 20.1h0M34.1 95.9h0M124.5 43.3h0M17.5 98.6h0M63.9 107.9h0M78.2 32.1h0M66.9 4.2h0M29.7 75.2h0M71.2 20h0M145 23.9h0M63.9 94.6h0M54 54h0M56.6 105.4h0M90.7 57.8h0M149.4 17.4h0M46.8 56h0M20.8 109.3h0M130.1 13.6h0M136 6.7h0M47.4 76.4h0M71.3 111.6h0M30.6 7.9h0M22.2 82.4h0M38.3 75h0M144.4 33h0M12.9 30.4h0M119.5 57.4h0M102.4 95.7h0M78.7 50h0M9.2 1.3h0M112.8 71.3h0M28.5 84.8h0M78.2 30.9h0M128.8 17.9h0M131 67.8h0M134.8 85.9h0M6.1 35.8h0M65.1 44.5h0M123 44.8h0M126.1 80.9h0M106.2 10.2h0M79.6 103.6h0M130.6 4.1h0M47.1 71.5h0M7.5 10.8h0M100.2 66.5h0M38.4 43.5h0M5.3 27.8h0M57.7 112.6h0M87.3 70.7h0M36.4 67.8h0M86.2 113.1h0M49.1 72.4h0M17.6 60.9h0M1 0.5h0M66.6 30.5h0M5.3 64.4h0M124.9 67.5h0M133.5 54.5h0M70.8 82.7h0M124.9 106.3h0M69 92.1h0M8.9 53.9h0M25.5 91.3h0M14.6 57.4h0M55.6 40.7h0M12.2 13.8h0M4.2 18.7h0M117.5 77.7h0M108.4 43.8h0M115.8 37.9h0M67.3 70.4h0M147.2 88.1h0M59.2 57.9h0M14.9 17.5h0M2.3 35h0M8.7 66.5h0M47.6 9.8h0M20.6 98.8h0M37.8 108.9h0M111.7 81.1h0M99.7 98.7h0M129.9 16.5h0M114.8 39.4h0M120.3 33.6h0M44.4 39.1h0M40.3 22.6h0M101.4 110.1h0M148.7 22h0M108.9 103h0M87.5 11.8h0M123.4 84.3h0M80.8 89.5h0M47.8 22.6h0M60.2 0.5h0M106 81h0M49.7 111.8h0M116.8 13.3h0M150.2 24.7h0M42.8 45.8h0M116.3 87.9h0M85.9 109.5h0M73.9 91.3h0M112.8 20.5h0M72.7 75.3h0M143.6 44.2h0M147.5 12.4h0M52 59h0M97.2 23.2h0M5.2 102.9h0M42.4 10.8h0M26 26.7h0M23.2 41.7h0M147.6 44.9h0M101.5 102h0M51.7 105.1h0M133.3 109.7h0M134.4 8.3h0M138.8 91.1h0M52.7 95.4h0M47.6 47.2h0M140.2 48.2h0M133.9 93.7h0M82.1 99.2h0M136.5 93.7h0M32.9 94.9h0M99.3 63.7h0M80.3 76.8h0M43.9 85.9h0M13.7 102.5h0M2.1 19.5h0M71.7 104.2h0M80.9 113.8h0M136.6 60.9h0M76.7 68.3h0M75.4 31.1h0M36.6 92.2h0M57 97.2h0M118.5 80.3h0M110.8 55.6h0M93.1 88.6h0M69.6 81.8h0M8.4 114.6h0M104.9 48.5h0M85.3 24.4h0M110.1 101.3h0M147.8 96.4h0M39.9 43.6h0M107.5 40.5h0M113.4 107.4h0M135.6 92.6h0M104.8 59.8h0M93.9 103.5h0M105.3 116.6h0M91.4 47.8h0M123.5 56.3h0M72.8 35.9h0M19.8 40h0M55.9 9.8h0M63.2 97.8h0M110.1 111.2h0M31.8 4.7h0M26.7 29.2h0M26.7 22.3h0M46.8 55.6h0M15 106.8h0M48 5.9h0M87.6 32.4h0M39 63.1h0M45.8 46.1h0M55.6 115.7h0M88.6 80h0M90.5 77.4h0M115.3 1.2h0M85.6 51.3h0M46.2 20.7h0M47 47.9h0M35.1 39.2h0" stroke="#e61212" stroke-width="2.5" stroke-linecap="round" fill="none"/>
<path d="M148.5 68.6h0M150.3 67.2h0M72.9 25h0M7.4 106.5h0M0.6 89h0M124.1 40.9h0M40.5 41.8h0M65.5 25.5h0M90.3 81.4h0M41.4 80.9h0M23.2 32.2h0M110.2 86h0M55.4 46.3h0M135.5 81.3h0M75 100.5h0M114.8 17.8h0M71.3 115.1h0M5.8 109.7h0M142.6 16.8h0M28 32.7h0M110.8 16.3h0M108 26.1h0M120 23.2h0M23 93.3h0M0.1 54h0M64.6 50.9h0M8.3 26.5h0M91 37.2h0M151.4 67.9h0M13.2 47.6h0M59 26.9h0M49.6 45h0M107.5 4.9h0M101.2 30.2h0M89.1 80h0M48.8 109.6h0M14.4 22h0M107.4 11.3h0M129.4 70.2h0M107.2 80.8h0M36.2 68.2h0M93.6 90.5h0M142.1 62.6h0M148.5 44.7h0M107.6 15.5h0M112.9 32.6h0M126.2 26.8h0M44.6 18.5h0M113.9 73.6h0M34.1 10.8h0M56.1 17.7h0M146.9 61.6h0M125.5 3h0M119.6 66.2h0M43.7 21h0M22.7 85.4h0M108.6 110.9h0M127.3 13h0M132.9 79.8h0M114.7 59.5h0M40.2 73.4h0M9.9 56.2h0M8.9 34.2h0M42.1 71.2h0M4.2 46.5h0M8.1 48.6h0M130.6 99.1h0M88.8 47.6h0M123.6 12.8h0M125.3 22.3h0M33 106.7h0M89.8 27.5h0M62.2 61.5h0M62.3 85.7h0M107.1 31.2h0M148.6 91.3h0M28.2 98.5h0M85.7 70.5h0M9.2 54h0M21.6 20.3h0M117.5 99.8h0M91.5 116.5h0M11.3 76.8h0M18.6 53.3h0M117.4 24h0M139.7 8.3h0M127.4 77.4h0M19.3 86.4h0M102.6 101.5h0M118.2 15.6h0M108 28.7h0M68.4 84.8h0M72.4 81.7h0M116.5 41.7h0M52.9 3.6h0M11.4 16.5h0M69.8 117h0M126.8 100.6h0M105.4 104.5h0M77.8 32.4h0M135.4 18.7h0M66.2 82.7h0M41.8 46.4h0M100.2 114.2h0M8.9 68.3h0M33.1 42.2h0M148.8 83.4h0M51.9 67.5h0M128.4 50h0M138 58.2h0M1.3 45.6h0M77.4 49.1h0M81 110h0M91.3 3.7h0M29.3 9.2h0M15.6 26.2h0M48 68.5h0M10.7 31.8h0M4.5 4h0M81.8 114.9h0M103.8 69.9h0M28 63.5h0M129.8 29.5h0M25 5.2h0M70.3 40.1h0M145.6 96.7h0M85.9 48.8h0M86.1 114.7h0M116.2 9.7h0M133.1 20.2h0M20.5 5.8h0M93.8 93.1h0M97.2 87.7h0M138.6 46.4h0M17.7 87.8h0M105.5 55.7h0M50 60.3h0M83.6 105.3h0M145.4 86.8h0M23.3 61.5h0M27.7 20.2h0M17.2 21.8h0M61 95.3h0M145.4 70.3h0M74.2 52.2h0M38.2 14.2h0M27.4 0.2h0M56.7 74.4h0M43.3 46.3h0M120.2 70.1h0M20.2 28h0M71.3 2.1h0M79.4 13.8h0M132.3 18.8h0M50.2 43.7h0M84.9 49.7h0M11.3 100.3h0M99.1 29.4h0M64.5 82.8h0M32.4 102.5h0M39 23.8h0M133.2 37.8h0M13.9 99.3h0M141.6 70.6h0M107.8 9h0M30.9 18.4h0M116 70.8h0M10.4 41.7h0M45.3 28.8h0M81.9 26.5h0M21.5 66h0M132 17.8h0M3.4 9.9h0M46.2 64.5h0M77.3 77.6h0M129.7 115.4h0M13.1 83.5h0M116.2 102.2h0M140.2 19.9h0M40.8 22.9h0M115 20.4h0M15.1 115h0M46.4 49.9h0M6.2 67.6h0M21.8 62.6h0M33.7 47.1h0M45.4 68.6h0M62.5 104.5h0M82.5 61.6h0M24.4 100.3h0M36.3 116.5h0M9.1 51.9h0M13.4 31.5h0M58.5 4.6h0M1.4 57.1h0M12.2 53.7h0M37.2 3.5h0M10.8 78h0M110.6 26.2h0M120.9 13.3h0M0.4 101.6h0M101.8 26.6h0M122.3 32.4h0M128.2 100.7h0M101.9 60.9h0M50.8 75.6h0M131.5 106h0M22.2 83.4h0M36.9 21.7h0M109.4 22.2h0M99.6 10.2h0M28.2 83.5h0M75.5 51.5h0M27.2 95.9h0M126.5 75.3h0M136.6 16.4h0M104.5 7h0M22.2 16.9h0M67.3 112h0M86.9 56.1h0M44.5 113.6h0M135.2 79.9h0M0.2 19.7h0M57.2 27.5h0M123.1 56.9h0M81.4 9.2h0M46.6 55.2h0M103.4 0.6h0M41.7 85.5h0M136.7 32.9h0M34.3 58.2h0M73.1 17.6h0M75.6 49.5h0M114.2 34.3h0M151.9 86.4h0M36.4 85.5h0M115.8 77h0M138.3 29.8h0M57.1 22.2h0M23.7 73.7h0M11.1 91.3h0M51.8 82.7h0M151.5 60.1h0M133.2 98.7h0M133.6 59.9h0M82.4 87.2h0M90.1 27.6h0M133.7 68.4h0M103.3 75.1h0M109.9 57.1h0M47.7 13.2h0M57.2 62.7h0M149.3 0.9h0M48.2 111.8h0M109.3 104h0M27.2 45.3h0M74.4 103.4h0M92.6 63.2h0M148.4 55.9h0M136 72.4h0M79.7 84.8h0M85.5 36.7h0M98.2 71.2h0M56.6 29.2h0M44.5 35.6h0M85.2 57.4h0M84 79.6h0M0.9 91.7h0M126.3 31.6h0M119.2 79.1h0M134.4 116.5h0M141.2 37.7h0M124.7 5.2h0M146.1 53.2h0M131.4 20.4h0M150.3 91.7h0M31.9 14.7h0M143.9 77.9h0M107.4 75.3h0M47.9 6.4h0M141.6 111.4h0M116.1 46.8h0M118.8 3.1h0M0.2 26.5h0M65.6 108.4h0M49.1 14.8h0M136.2 28.9h0M140.8 60.9h0M95.1 66h0M60.9 41.5h0M135.5 45.2h0M23.6 26.3h0M146.6 34.1h0M64.3 22.5h0M148.1 37.7h0M152 95.9h0M140 78.8h0M48.2 58.1h0M87.1 32.4h0M130.1 74.9h0M149.8 3.5h0M128.4 102.3h0M106 38.7h0M82 87.8h0M33 66.8h0M69 10h0M47.8 110.1h0M142.2 110.2h0M87.1 83.4h0M128.6 12h0M92.6 68.4h0M85.7 40.3h0M7.6 63.8h0M3.4 98h0M24.6 113.2h0M129.8 22.6h0M95.1 103.6h0M1.7 36.4h0M39.5 107.7h0M132.4 59.7h0M33 75.8h0M90.9 89.5h0M122.5 44.3h0M27 69.8h0M29.3 13.1h0M91 2.8h0M146.3 116.6h0M128.7 17.1h0M43.6 35.4h0M37.8 71h0M71.1 14.4h0M140.5 90h0M93 56.2h0M37.6 66.2h0M46.6 33.8h0M74.5 12.6h0M98 106h0M131.8 38.3h0M143.9 32h0M58.6 16.2h0M121.9 53.7h0M92.6 89.1h0M39.9 18.7h0M143.5 14.4h0M113.5 116.6h0M57 106.9h0M65.6 61.1h0M134.3 50.2h0M60.6 89.8h0M130.1 22.9h0M56.6 108.1h0M83.5 78.1h0M84.8 44.2h0M104 56.1h0M150.5 49.2h0M92.6 61.7h0M153.5 74.7h0M5.6 24.2h0M143.2 56.7h0M117.5 35.9h0M67.5 102.4h0M14.7 14.9h0M133.8 27.2h0M102.5 48.4h0M131.7 79.3h0M69.3 83.9h0M21.6 52.9h0M77.6 20.3h0M132.6 110.8h0M8.2 22.8h0M117.6 85.4h0M28.4 21.3h0M9.1 101.7h0M83.3 22.1h0M80.5 92.9h0M52.9 2.7h0M29.5 76.5h0M32 4.3h0M68.6 64.3h0M109.6 40.2h0M98.6 115.3h0M110.4 62.9h0M12.8 8.7h0M45.4 78.4h0M79 58.4h0M69 82h0M71.4 96.6h0M62 87.6h0M40.6 68.8h0M59.8 75.3h0M147 54.1h0M99.8 49.5h0M147.7 18.8h0M116.2 81.7h0M124.3 62.1h0M111.3 16.1h0M105 34.2h0M86.8 28h0M38.8 67.9h0M10.7 16.1h0M80.5 57.5h0M87.2 50.4h0M152.4 67.7h0M153.4 34.5h0M106.8 108.8h0M52.1 90.9h0M5.2 105.9h0M91.4 6.9h0M124.9 38.7h0M18.3 112.2h0M63 77.8h0M51.3 66.3h0M24.1 21.8h0M121.8 58.9h0M114.5 93.2h0M101.5 72.1h0M26.7 29.5h0M139.4 64.7h0M105.1 73.6h0M73.4 39h0" stroke="#a00a0a" stroke-width="1.5" stroke-linecap="round" fill="none"/>
<path d="M127.8 23.3h0M20.8 92.7h0M115.8 89.4h0M48.4 97h0M116.4 66.2h0M148.5 102.8h0M101 35.4h0M117.9 16.3h0M140.3 10h0M28.1 49.7h0M138.4 95.5h0M143.5 55.7h0M146.3 75.6h0M5.1 115.8h0M18.6 78.2h0M74 10.7h0M70.4 14.8h0M145.5 95.1h0M78.4 111.6h0M84.9 34.1h0M83.5 115.6h0M24.6 89h0M4.9 76.1h0M11 44h0M9.9 2.2h0M76.9 92.5h0M19.7 87.4h0M110.4 116h0M27.9 65.8h0M27.7 55.4h0M17.9 20.4h0M88.9 26.5h0M23.1 16.3h0M43.4 97h0M121.7 73.9h0M28.8 112.1h0M72.1 34h0M153 5.5h0M35 72.1h0M42.1 59.6h0M32 36.8h0M137.3 72.6h0M128 113h0M32.9 60.5h0M2.1 30h0M34.8 110.9h0M115.5 66.3h0M16.7 31.6h0M45.6 56.7h0M119.7 5.7h0M109.8 14.2h0M123.5 40.8h0M83 47h0M134.6 115.9h0M82.7 52.2h0M63.8 42.1h0M46.6 7.8h0M142.1 1.3h0M47.9 101.4h0M117 53.8h0M107.3 117h0M21.1 89h0M132.5 29h0M64.5 22.1h0M26.2 111.4h0M78.2 2.5h0M36.9 44.6h0M56 40.1h0M56.8 73.9h0M139.4 112.4h0M89 108.7h0M68.1 56.3h0M132.5 37.4h0M78.2 57.1h0M98.2 52.9h0M118.1 69.9h0M120.4 87.7h0M60.1 7.9h0M57.6 104.5h0M113.3 100.8h0M102.5 60.8h0M104.6 68.9h0M128 15.7h0M91.5 106.2h0M59.2 47.6h0M93.6 109.4h0M149.9 27h0M107.8 104.9h0M107.8 21.3h0M78.6 98.2h0M111.1 69.3h0M102.1 80.6h0M143.1 108.9h0M15.4 101.2h0M12.6 96h0M85.8 57h0M91.5 39.1h0M19.3 62.2h0M10 28.8h0M4 108.8h0M19.7 9.5h0M150.9 10.6h0M125.4 58.2h0M116.9 38.1h0M137.4 24.5h0M38.2 28.1h0M34.8 84.3h0M49.3 12.1h0M132.1 34.3h0M145.6 5.1h0" stroke="#f81c1c" stroke-width="3.1" stroke-linecap="round" fill="none"/>
</svg>
<g transform="translate(839.7 1232)">
<path d="M130.5 66.2h0M68.9 35.4h0M115.7 75.5h0M6 14.9h0M122.6 8.9h0M56.9 35.6h0M54.3 37.8h0M65.1 23.4h0" stroke="#e0e020" stroke-width="1.5" stroke-linecap="round" fill="none"/>
</g>
<g transform="translate(839.7 1354.8)">
<path d="M62.6 75.1h0M70.3 28.1h0M11.6 5.5h0M107.4 82.5h0M100.2 86.9h0M70.7 99.8h0M60.2 22.5h0M120.5 18.5h0M63.8 36.8h0M28.5 11.2h0M142.7 45h0M135.4 4.7h0M10.1 6.4h0M78.3 97.8h0M25.3 85.1h0M88 41.2h0M78 27.1h0M70.1 60.7h0M37.4 29h0M6.8 66.7h0M67.8 76.5h0M68.1 47.8h0M98.9 70.7h0M132.7 27.3h0M78.7 11.9h0M128.9 33.4h0M129.3 8.5h0M23.1 100.6h0M104.5 38.8h0M54.8 104.9h0M11.4 88.8h0M87.6 35.5h0M35.2 96.5h0M71.8 101.5h0M31.4 58.4h0M144.7 29.2h0M121 10.9h0M106.8 41.3h0M42.6 44.1h0M10.5 91.5h0M80 30.6h0M102.9 15.4h0M119.1 95h0M101.5 19.2h0M13.6 91.7h0M111.5 27.9h0M79.7 64.7h0M28 70.1h0M78.9 58.9h0M20.7 24.1h0M69.1 77.7h0M55 1.7h0M46.3 45.4h0M18.4 58.3h0M68.3 54.6h0M51.8 27.3h0M144.4 47.1h0M74.8 62.9h0M121 55.1h0M113.4 11.8h0M135.4 58h0M101.5 54.4h0M30.2 26.1h0M36.3 35.7h0M103.9 56.1h0M75.1 32.3h0M7.8 98.4h0M17 10.1h0M65.9 109.5h0M140.8 30.3h0M4.8 71.9h0M133.2 73.8h0M104.8 11.8h0M121.6 84.8h0M49.6 32.7h0M149.3 43.2h0M22.8 44.8h0M6.7 44.6h0M63.8 50.1h0M92.7 36.4h0M65.9 97.9h0M87.7 40.3h0M102.6 26.1h0M43.4 3h0M141.4 27.7h0M21 58.8h0M80.7 46.5h0M97.2 51.6h0M70.6 100.6h0M60.2 94.2h0" stroke="#f01414" stroke-width="2.4" stroke-linecap="round" fill="none"/>
<path d="M133.4 20.9h0M113.7 104.7h0M42.2 4.5h0M145.9 36.1h0M91.6 75.8h0M94.5 23.2h0M93.7 62h0M89.1 67.2h0M144.7 11.8h0M55.8 12.7h0" stroke="#e0d020" stroke-width="2.0" stroke-linecap="round" fill="none"/>
</g>
<svg x="839.7" y="1478.5" width="153.6" height="116.8"><rect width="153.6" height="116.8" fill="#000"/>
<path d="M14.7 86h0M58.1 23.7h0M12.9 42.3h0M150.1 110.4h0M56 15.6h0M98.2 38.8h0M60.8 34.4h0M100.1 2.9h0M127.3 56.6h0M150.2 95.6h0M86.6 66.8h0M58.2 2.8h0M110.9 103.5h0M67.6 99.4h0M22.5 112h0M129.6 42.2h0M144.1 77.4h0M144 112.2h0M61.9 25.4h0M57.5 16.9h0M132.5 7.1h0M108.3 111h0M15.9 7.3h0M82.2 36.3h0M139.2 90.9h0M105.9 84.8h0M119.1 82.1h0M101 58.1h0M38 30.9h0M108.3 91.1h0M146.5 45.4h0M104 48.2h0M27.7 28.5h0M66.7 81.4h0M79.9 27.4h0M59.5 114.7h0M102 57.1h0M77.2 112.8h0M4.3 17.2h0M90.6 65.8h0M49 112.6h0M70.6 31.6h0M62.4 59.5h0M135.5 0.1h0M21.4 7.9h0M45.4 32.3h0M140.1 47.4h0M45.7 63.3h0M59.5 103.9h0M23.7 68.4h0M66 72.2h0M115.7 59.5h0M70.9 113.7h0M128.9 59.6h0M69.7 103.4h0M141.6 101.1h0M99.4 79.6h0M117.1 70.9h0M3.9 111.7h0M119 92.8h0M21.6 62.3h0M141.8 49h0M100.3 83.1h0M115.6 115.9h0M4.1 43.4h0M20.4 84.7h0M46.9 61.7h0M38.4 85.7h0M133.2 81.2h0M16.2 24h0M118.2 63.6h0M11.3 76.9h0M2.1 72.7h0M98.8 61.7h0M22.3 19.9h0M74.1 5.8h0M54.9 35h0M9.4 39.2h0M68.5 19.8h0M130.6 21.4h0M146.5 57.3h0M112.6 21.1h0M22.1 110.3h0M4.6 10.7h0M97.3 102.4h0M83.3 28h0M109.2 58.1h0M33.7 2.2h0M136.8 60.6h0M79.5 72.9h0M96 111.7h0M97.9 3.6h0M60.4 18.3h0M130.1 11.8h0M55.4 47.7h0M29.9 71.6h0M15.6 29.4h0M121.8 50.2h0M28.5 2.7h0M6.2 29.4h0M16.1 31.4h0M141.9 5.8h0M47.1 32.5h0M134.5 90.7h0M19.4 83h0M123.1 54.7h0M14.3 95.7h0M37.9 30.2h0M76.5 7.2h0M46 25.2h0M8.7 13.8h0M142.9 51.7h0M111.3 85h0M31.5 14.7h0M61.4 56.7h0M39.6 20h0M121.6 56.6h0M78.4 14h0M140.8 67.6h0M134.6 104.6h0M109 26.7h0M2 3.8h0M22.9 26h0M119.7 40.7h0M6.9 22.6h0M81.4 109.5h0M16.8 4.1h0M70.5 97.3h0M119 45.1h0M90.6 79.4h0M26.2 108.7h0M134.3 35.3h0M93.9 100.1h0M135.3 34.9h0M42.2 15.2h0M135 54.6h0M15.2 54.6h0M81.4 39.6h0M61.2 69.3h0M87.4 53.3h0M44.1 60.6h0M145.9 11.8h0M18.7 19.3h0M51.2 26.5h0M97.4 38.9h0M50.3 5h0M102.6 47.7h0M70.4 66.1h0M45.3 58.3h0M48.3 19.4h0M9 61.1h0M139.1 26.2h0M36.3 99.1h0M118.4 84.6h0M125.5 77.7h0M17.5 112.5h0M135.4 114.4h0M116.5 115.8h0M10.2 106.5h0M53.8 89.8h0M66.6 83.9h0M22.4 93.1h0M36.4 2.6h0M23.9 15.9h0M40.6 27.4h0M16.1 62.2h0M47.8 78.9h0M94.8 44.3h0M124.5 72.4h0M35 79.2h0M123 62.9h0M0.1 3.9h0M91.4 25.6h0M17.4 66.7h0M36.4 5.6h0M43.7 19.5h0M47.7 85.5h0M13.8 47.5h0M62.2 61.9h0M119.4 95.2h0M81.7 25.5h0M85.6 67.9h0M23 103.3h0M136.5 51.2h0M77.4 44.4h0M116.4 51.6h0M34.7 3.2h0M98.9 10.9h0M150.9 63.9h0M119.4 72.9h0M123.6 79.8h0M118 89.7h0M131.9 7.9h0M114.2 54h0M131.7 48.2h0M61 85.7h0M31.6 87.1h0M97.8 51.3h0M35.1 83.6h0M10.5 67.7h0M138.9 32.2h0M68 10.3h0M89.3 12.9h0M101.1 15.7h0M88 57.8h0M64 80.8h0M80.4 114.4h0M104.5 54.7h0M135.8 21.2h0M137.6 110.6h0M7.7 77h0M136.7 14.8h0M83.1 92.1h0M116.3 52.6h0M133.8 77.8h0M86.8 48.3h0M123.6 34.7h0M40.3 82.2h0M10.7 22.8h0M55 76.3h0M38.5 51.7h0M107 47.5h0M136.7 76.8h0M39 33h0M122.3 82.6h0M34.2 92.3h0M134.9 65.8h0M4.6 89.3h0M53.8 101.4h0M53.7 58.4h0M15.1 56h0M36.9 38.7h0M75.5 48.3h0M67.8 100.2h0M53.4 97.7h0M93 73.1h0M47.5 65.9h0M17 23.1h0M135.1 97.1h0M4.9 36.9h0M88.3 96.1h0M131.7 75.7h0M127.2 9.9h0M95.3 66h0M83.7 76.5h0M143.4 115h0M78.9 20.1h0M147.7 3.1h0M92.5 85.2h0M95.1 48h0M60.1 17.4h0M39.1 28.3h0M50 70.6h0M74.7 8.9h0M39.1 39.6h0M85.4 102.3h0M56.3 34.8h0M11.3 11.7h0M7.6 85.9h0M1.9 62.4h0M129.8 57.2h0M136.3 71.2h0M14.1 51.5h0M75.5 48.1h0M110.6 7h0M54.5 60.7h0M75 44h0M115.3 68.4h0M149.5 13.3h0M93.7 20.3h0M93.7 41.4h0M62.7 83h0M141.9 38.4h0M99.8 107.8h0M52.9 107.3h0M89.2 55.3h0M109.7 98.8h0M85.6 22h0M149.3 9.5h0M140.7 16h0M69 56.4h0M152.9 2.1h0M57.8 101.9h0M25.9 38.5h0M113.9 81.3h0M58.9 81.8h0M134.7 116.2h0M8.5 69.6h0M7.7 0.8h0M13.8 45.6h0M144.8 52.5h0M129.1 3h0M83.4 48.1h0M60.1 36.6h0M38.5 96h0M124.3 18.6h0M0.7 61.8h0M92.5 20.1h0M140.7 57.6h0M44.1 30.6h0M18.1 112h0M36 56.4h0M121.6 24.8h0M75.5 6.6h0M141.6 15.8h0M52.5 9.2h0M35.7 100h0M12.9 39.8h0M149.3 88.2h0M14.3 99.1h0M13.6 106.5h0M43.3 87.1h0M19.3 31.2h0M57.5 15.2h0M90.1 115.9h0M150.8 31.6h0M57.3 39.3h0M17.9 71.3h0M55.2 75.3h0M23.3 10.1h0M16.1 78.2h0M8.8 51.4h0M82.8 38.6h0M130.6 79.5h0M100.5 31.2h0M79.7 38.5h0M113.6 48.2h0M123.8 43.7h0M7.4 60.3h0M70.2 44.1h0M74.4 74.3h0M71.2 88.5h0M131.2 96.7h0M51.8 29.1h0M131.8 26.3h0M11.7 51.7h0M56.7 93.4h0M86.8 77.8h0M115.6 86.5h0M44.7 8.5h0M131.6 86.8h0M24.9 10.5h0M104.3 89.6h0M75 26.2h0M53 16.8h0M90.9 32.9h0M98.9 35.9h0M86.2 101.5h0M98.6 28.2h0M87.5 89.5h0M35.9 46.9h0M87.3 37.4h0M74 31.9h0M48.9 79h0M24.4 41.3h0M79.7 0.5h0M3.2 84.1h0M7 92.5h0M128.7 13.4h0M112.6 116.2h0M0.1 54.3h0M72 22.2h0M80.8 99.9h0M61.3 73.3h0M148.2 69.7h0M5.1 84.9h0M142.5 24.4h0M121.2 15.5h0M127 66.8h0M41.4 52h0M118.2 113.1h0M74 35.7h0M151 46.9h0M22.9 73.1h0M80.6 62.7h0M143.4 42.8h0M28.5 74.4h0M64.9 16.6h0M49.5 80.4h0M128.6 114.2h0" stroke="#a00c0c" stroke-width="1.5" stroke-linecap="round" fill="none"/>
<path d="M117.9 95.1h0M77.9 85.6h0M147.6 116.1h0M55 22.8h0M25.3 8.1h0M3.5 59.7h0M84.6 64h0M106.4 41.9h0M92.1 22.1h0M123.3 58.5h0M137.1 20.7h0M95.2 38.7h0M150.5 44.8h0M99.8 46.2h0M119.3 42.5h0M53.1 32.2h0M130.3 94.4h0M34.3 67.5h0M136.3 55.8h0M124.9 9h0M53.5 63.2h0M7.7 23.8h0M20.8 69.1h0M18.6 5.4h0M120.2 93.4h0M84.6 4.2h0M68.8 111.3h0M17.8 1.7h0M44.2 41h0M141.5 29.7h0M62.6 95.6h0M11.4 80.1h0M149.6 37.2h0M48 9.2h0M113.2 103.3h0M61.5 99.5h0M95.3 87.4h0M24.3 71.7h0M89.7 12.8h0M95.4 85.5h0M85.4 80.8h0M122.8 50.9h0M74.5 82.4h0M145 4.3h0M153.2 30.2h0M143.7 54.6h0M102.5 40.8h0M25.7 3.9h0M61.3 27.5h0M5.2 22.1h0M68.4 59.5h0M94.3 86.5h0M43 9.1h0M143.5 0.3h0M26.3 50.8h0M61.4 27.2h0M2 2.5h0M137 98.8h0M30 69.8h0M4.7 106.6h0M113.9 12.3h0M73.7 82h0M1.2 58.9h0M75.5 13.8h0M24.1 3h0M11.1 89.4h0M150.5 76.7h0M129.6 80.5h0M73.9 17.9h0M87.8 31.6h0M96.1 10.6h0M125.9 96.4h0M144.4 109.6h0M70.5 116.3h0M30.2 58.1h0M52.5 94.4h0M58.3 48h0M22.2 7h0M142.6 116.6h0M23.9 107.2h0M111.7 12.5h0M122.8 100.8h0M135.6 21.2h0M115.3 46h0M102.3 101.4h0M81.3 65.8h0M48.9 102.3h0M73.2 83.6h0M89.6 53h0M142 5.8h0M14.3 76.9h0M119.3 47.4h0M53 73.8h0M38.5 110h0M134.6 105.1h0M113.9 34.1h0M30.9 29h0M61.2 36h0M72.5 45.8h0M132.4 28.4h0M31.6 81h0M110.1 54.4h0M124.8 22.6h0M41.8 62.7h0M111.7 46.2h0M146.2 51.5h0M126.7 65.3h0M122.9 61.2h0M101.1 19.8h0M76.9 40.6h0M80.4 50.8h0M41 105.7h0M65.2 3.7h0M111.3 104.3h0M120.6 99.4h0M1 6h0M113.8 37.3h0M147 100.1h0M37 14h0M103.5 22.2h0M141.1 88.9h0M79.5 12.8h0M84.4 79.3h0M96 59h0M88.8 115.5h0M150.6 24.8h0M13.8 92.1h0M66.7 70.1h0M34.8 110.2h0M121.3 60.3h0M29.2 76.1h0M35.9 13.8h0M107.3 11.3h0M42.5 113.3h0M74 14.9h0M111.5 35.3h0M5.4 2.1h0M19.4 65.2h0M116 32.4h0M19.2 34.7h0M92.5 72.1h0M121.9 89h0M42.9 20.5h0M39 49.1h0M18.1 50.7h0M63.3 76.1h0M75.3 50.4h0M67.9 36.1h0M55.2 33.2h0M114.6 12.1h0M63.5 51.6h0M8.6 91.5h0M68.1 114h0M41.7 56.6h0M135.1 62.7h0M110.5 61.9h0M137.7 39.2h0M132.4 79.8h0M125.8 4.2h0M140.1 51.8h0M53.1 9.6h0M62.4 39.3h0M7.4 46.1h0M149.9 50.5h0M96.6 100.6h0M31.4 48.9h0M118.1 69.8h0M95.9 23.6h0M95.9 58.6h0M8.5 95.9h0M153.1 38.9h0M104.5 11.5h0M1.3 101.6h0M129.8 88.5h0M110.4 90.3h0M117.1 96h0M54.4 35.5h0M119.4 45h0M26.2 43.6h0M54 16.2h0M10.1 66.1h0M35.7 64.3h0M86.9 31.3h0M41.7 5.5h0M31 5.6h0M91 105.7h0M81.2 62.9h0M140.4 19.9h0M62.3 83.7h0M40.3 58.2h0M21.3 71.8h0M112.4 60.1h0M133.7 43.7h0M83.6 61.3h0M11.6 48.6h0M46.6 76.2h0M76.5 74.4h0M30 4.7h0M1.4 108.9h0M120.7 20.5h0M141.2 3.6h0M131.3 85h0M29.7 116h0M49.6 104.6h0M72.6 102.2h0M63.9 32.2h0M61.8 69.3h0M19.8 54.2h0M60.4 61.6h0M146.3 22.5h0M79 24.6h0M27.1 70.2h0M78.3 71.1h0M93.6 39.2h0M82.8 92.9h0M143.4 41.5h0M151.4 81.3h0M140.4 1.4h0M83.6 67.6h0M3.4 111.7h0M36.4 14.1h0M5.8 82.8h0M26.7 65.8h0M103.2 106.5h0M63.3 42.1h0M119.1 100.8h0M56.6 55h0M43.9 10.9h0M79.7 1.8h0M90.4 89.2h0M69.4 36.8h0M39.2 49.7h0M74.8 115.9h0M62.9 102.1h0M76.3 60.7h0M83.5 90.2h0M96.4 110.5h0M76.9 74.6h0M53.3 79.8h0M51.2 68.9h0M61 46.4h0M126.8 18.9h0M28.3 22.7h0M149.3 59.7h0M16.7 20.6h0M74.7 43.5h0M54.7 110.7h0M3.6 91.1h0M130.1 36.9h0M83 69.5h0M27.4 58.7h0M94.6 103.2h0M133.2 67.3h0M117 27.4h0M22 67.5h0M71.3 53.4h0M25.5 14.8h0M136.9 90.2h0M48.9 72.7h0M131.9 83.4h0M111.4 96.7h0M11.4 30.9h0M38.8 20.5h0M113.1 115.1h0M87.9 56h0M49.1 39h0M107.8 85.1h0M106.3 61.9h0M28.5 11.3h0M1.7 107.4h0M60.4 114.8h0M29.6 28.6h0M58.4 43.3h0M48.3 3h0M117.8 104.3h0M68.4 25.9h0M76.5 112.9h0M137.9 104.2h0M61.7 35.8h0M100.1 70.1h0M96.2 105.6h0M65.1 52.5h0M102.8 57.7h0M119.9 49h0M70.5 54.9h0M127.4 59.9h0M33.9 74.9h0M48.3 107.9h0M40.4 58.6h0M77.8 52.1h0M103.6 71.8h0M26.2 17h0M108.1 111.2h0M40.7 49.6h0M143.8 16.3h0M83.9 32.8h0M37 75.1h0M124.7 53h0M127.2 94.8h0M143.2 3h0M49.3 87h0M133.5 25.8h0M18.7 51.4h0M106.6 59.4h0M126.1 99.8h0M50.9 112.2h0M42.7 93.4h0M33.8 72.3h0M57.8 93.1h0M89.6 88h0M17.4 41.7h0M51.4 93.5h0M53.6 62.1h0M137.4 68.4h0M75.5 89.2h0M74.8 113.6h0M78.7 111.9h0M80 61.3h0M87.1 5.2h0M1.6 12.8h0M138.9 71.5h0M107.8 57.5h0M106.1 75.5h0M54.2 72.5h0M2.9 51.6h0M74.6 37h0M18.9 58.3h0M7 72.2h0M127.9 56.2h0M100 11.5h0M36.6 54.3h0M63.5 9.3h0M102.9 5.4h0M17.5 29h0M118.3 11.5h0M81.6 112.5h0M108.3 48.4h0M90.3 40h0M118.1 69.2h0M44 102.3h0M143.2 99.3h0M46 99h0M70.7 104.9h0M119.9 43.4h0M94.7 88.3h0M40.4 48h0M141.8 111.2h0M136.6 26.3h0M130.6 109.1h0M37.3 9.3h0M67.8 86.3h0M98 77.7h0M139.3 110.4h0M36.8 6.6h0M88.6 51.8h0M2.5 116.6h0M9.6 60.8h0M135.6 7h0M126.4 17.5h0M134.8 109.1h0M54 20.4h0M22.3 4.5h0M89.6 31h0M50.2 63.8h0M121.5 91.6h0M27.7 10.6h0M59 106.7h0M141.7 110h0M54.5 74.8h0M88.2 31.2h0M97.2 34.6h0M27.6 53.1h0M92.4 7.7h0M117.1 90.4h0M94.9 44h0M2.7 41.4h0M22.3 69.1h0M122.3 41.1h0M153.2 71.6h0M103.3 86.2h0M118.9 50.3h0M63.2 109h0M75.4 33.9h0M111 75.4h0M89.4 85.9h0M60.3 69.9h0M60.1 40.8h0M106.4 88.5h0M45.6 77.5h0M73.4 12.9h0M119.4 14.1h0M36 18.3h0M134.3 54.6h0M142.3 62.2h0M76.5 89.8h0M80.2 24.9h0M27.2 43.5h0M46.6 14.4h0M54.6 114.6h0M28.5 67.9h0" stroke="#e02810" stroke-width="2.4" stroke-linecap="round" fill="none"/>
<path d="M11.7 78.3h0M101 107.4h0M96 43.2h0M114 53.1h0M150.2 31.4h0M34.2 87.2h0M144.6 107.1h0M70.7 59.5h0M46.5 107.7h0M60.6 97.1h0M74.9 50.3h0M109.6 66.9h0M9.1 4.4h0M104.6 23.5h0M64.5 110.5h0M104.1 31.2h0M56.6 54.1h0M49.6 38.3h0M70.4 95.9h0M97 20.7h0M133.5 80.9h0M147.5 67.3h0M44.7 6.5h0M63.3 48.5h0M76.7 0.9h0M111.4 1.3h0M67 65.3h0M129.7 18.1h0M125.2 46h0M117.7 21.5h0M98.4 61.9h0M9.3 38.6h0M141.2 110.6h0M98.6 19.3h0M4.5 32.7h0M64.2 60.3h0M98.8 96.1h0M88.3 10.9h0M2 33.9h0M93.8 76.3h0M101.3 106.4h0M134.2 88.4h0M74.9 0.5h0M50.3 23h0M6.9 17.8h0M35.4 75.1h0M90.2 95.2h0M77.3 47h0M50.8 93.6h0M58.1 114.5h0M50.5 91.5h0M105.7 39.3h0M90.2 81.8h0M49.9 3.1h0M60.3 115h0M19.5 26.3h0M141.1 41.5h0M18.8 21.4h0M92.3 105h0M69.3 77.8h0M23.4 102.6h0M149.8 44.8h0M66.4 85.7h0M142.8 33.8h0M89.9 35.7h0M16.8 4.6h0M127.9 9.2h0M57 113.1h0M20.5 100.1h0M88.4 17.3h0M140.8 98.3h0M6.6 100.9h0M86.4 107.3h0M86.8 111.4h0M47.5 22.7h0M112.4 116.8h0M141.7 73.4h0M42.9 108.9h0M4.8 110.8h0M152.2 105.6h0M105 100.7h0M140.6 26.7h0M86.5 53.4h0M54.7 89.6h0M125.7 85.3h0M1 16.9h0M39.7 101.2h0M100.1 71.4h0M60.7 15.8h0M39 48.1h0M57.8 102.3h0M67.7 62.9h0M92.3 4.3h0M132.1 96.4h0M143.9 64.2h0M107.6 105.4h0M125.9 5.7h0M126.2 44.8h0M2.9 66.4h0M1.8 109.9h0M102.8 58.2h0M141.2 50.8h0M118.2 43.1h0M152.8 103.1h0M100.9 53.1h0M100.6 1.4h0M44.9 0.9h0M135.8 91.6h0M56.2 29.6h0M153.4 56.9h0M5.3 42.2h0M109.3 84.8h0M121.7 34.2h0M106.1 115.4h0M145.2 108.8h0M119.2 54h0M87.5 3.4h0M58.7 70.4h0M65 15.3h0M73.1 73.7h0M55.2 27.9h0M119.8 48.5h0M17.2 94.1h0M11.6 56.4h0M56.6 105.2h0M114.1 39.5h0M97.9 26.4h0M109.8 111.6h0M1.4 49.7h0M92.5 103h0M9.2 74.4h0M111.1 14.6h0M18.6 18.1h0M66.4 68.1h0M22.6 52.9h0M86.6 68.2h0M116.1 61.5h0M89.3 29.3h0M135.7 68.3h0M70.1 60.1h0M126.6 35.7h0M26 78.5h0M48.9 13.7h0M151 101.6h0M94.7 26.8h0M4.4 90.4h0M113.6 37.4h0M45.9 95.1h0M59.2 105.9h0M92.4 12.4h0M84.8 59.6h0M20 8.3h0M57.9 80.8h0M82.4 106.9h0M1.2 80.4h0M124.7 8.1h0M48.7 99.4h0M26.2 53.3h0M44.4 46.5h0M148 50.6h0M19.6 77h0M105.6 4.7h0M108.6 3h0M0.5 87h0M135.9 0.6h0M92.5 6.5h0M11.2 107.2h0M31.4 107.2h0M3.3 7.4h0M131.2 89.5h0M110.3 26h0M59.8 44.2h0M51.2 26.9h0M86.7 6h0M35.1 65.6h0M97.1 70.5h0M68.3 87h0M137.7 111.2h0M98.2 90.9h0M41.8 59.1h0M92.7 76.5h0M151.3 15.9h0M143.4 23.9h0M73.8 2.2h0M25.8 29.9h0M116.5 6.8h0M17.2 46.6h0M61 21.9h0M143.4 54.1h0M99.9 99.2h0M1 22.2h0M51.4 88.1h0M67.4 50.8h0M84.6 82.5h0M68.5 114.4h0M72.8 70.3h0M94.7 16.8h0M34.7 87.7h0M21.8 13.1h0M70.4 54.3h0M134.6 72.1h0M33.6 60.7h0M106.3 84.8h0M135.2 40.2h0M127.9 61.8h0M150.4 115.9h0M65.6 12.3h0M24.1 78.3h0M136.7 74.5h0M110.7 80.3h0M44.4 64.4h0M36.5 93.1h0M137.6 59h0M46.7 29.9h0M144.9 51.1h0M5.1 100h0M100.7 107h0M104.8 97h0M56.6 55.3h0M38.7 1h0M30.7 22.7h0M63.4 21.5h0M56.6 7.9h0M2.3 13h0M107.8 23.4h0M1.3 112.4h0M115.7 83.1h0M31.2 9.3h0M118.5 14.7h0M138.3 69.3h0M150.9 58.3h0M63.8 105.4h0M47.4 99.1h0M143.9 85.4h0M104.4 28.1h0M46.4 51h0M139.8 90h0M74.3 1.6h0M109.4 75h0M103 44.8h0M55.7 29.9h0M111.3 22.2h0M26.8 103.7h0M81.8 100.9h0M150.6 24.9h0M16.3 4.6h0M21.9 85.4h0M109.7 43.4h0M16.2 62.6h0M134.4 107.2h0M78.6 109.1h0M23.9 73.5h0M85 24.1h0M80.2 29.4h0M99.8 83.9h0M13.2 3h0M69.9 84.6h0M141.1 83.7h0M98.4 14.7h0M117.1 24.7h0M101.1 77.9h0M147.8 47h0M91.4 63.3h0M59.9 64.1h0M89.7 15.7h0M110.8 16.7h0M32.7 76.7h0M72.9 6.4h0M33 41.9h0M108.7 102.4h0M74.8 12.6h0M32.6 73.8h0M32.4 102h0M95.7 106h0M69.5 7.2h0M113.3 72.6h0M51.1 67.5h0M36.9 89.4h0M131.4 84.5h0M105.3 94.4h0" stroke="#f09018" stroke-width="2.4" stroke-linecap="round" fill="none"/>
<path d="M73 49.2h0M100 9.2h0M86.7 63.7h0M22.9 42.1h0M97.3 64.5h0M128.7 18.9h0M128.9 86.1h0M19.1 6.6h0M121.6 12.2h0M134.4 46.3h0M130.2 29h0M150.2 86.9h0M26.2 40h0M105 70h0M107.6 58h0M60 93.3h0M144.6 27.4h0M53.6 69.9h0M113.3 84.7h0M151.6 83.7h0M84.2 17.7h0M62.6 55.2h0M48.7 78h0M125.9 34.4h0M76.9 51.9h0M40.7 23.8h0M72.6 32.2h0M94.3 20.8h0M8.7 110.1h0M93 43.7h0M59.2 52.1h0M50.7 114.7h0M6.6 86h0M15.1 80.8h0M108.6 22.5h0M147.3 20.6h0M150.8 23.9h0M60.8 11.7h0M55 116.2h0M90.8 91.4h0M31.2 115.4h0M70.7 33.3h0M25.2 112.9h0M49.2 97.3h0M152 43.8h0M58.7 49.5h0M7.2 18.4h0M140.6 3.6h0M29.8 111.8h0M85.4 60.9h0M12 32.9h0M139.5 52.7h0M84.9 38.6h0M64.1 86.7h0M133.9 81.9h0M76.7 68.9h0M116.8 40.7h0M76.5 60.9h0M110.4 20.9h0M70.3 95.7h0M93.1 115.5h0M29.3 57h0M110.1 20.1h0M90.3 64.3h0M98.1 111.4h0M107.6 111.8h0M44.5 62.5h0M7.1 4.9h0M8 104.8h0M130.2 23.9h0M116.6 72.1h0M32.2 61.4h0M138.4 48h0M129.2 5.9h0M38 95.7h0M107.9 31.4h0M49 59.3h0M124.5 58.4h0M56.6 3h0M78.3 15.8h0M124.2 107.6h0M95.1 77.9h0M14 30.3h0M105.5 92.7h0M20.3 41.5h0M94.7 83.8h0M85.7 43.7h0M80.5 94.2h0M75.2 7.9h0M83 111.5h0M127.5 26h0M103.8 90.7h0M152.2 74.3h0M97.3 8.6h0M54.2 83.4h0M59.6 20.2h0M130.1 106.5h0M112.9 73.4h0M77 57.2h0M6.8 77.9h0M104.1 46.8h0M10.9 103.2h0M92.5 104.2h0M43 41.7h0M15.8 65.3h0M79.1 37h0M49.5 22.3h0M134.1 92.4h0M111.5 66.7h0M49.5 57.2h0M111.2 99.8h0M2.6 2.4h0M148.7 33.1h0M64.2 98.5h0M126.9 23.9h0M82.3 8.6h0M57.6 37.3h0M109.8 8.9h0M100.4 49.3h0M80.8 21.7h0M84 110.1h0M77.9 25.7h0M66 23.3h0M92.9 44.1h0M153 0.8h0M92 47.8h0M27.8 28.4h0M146.4 46.4h0M121.2 52.1h0M85.5 113.3h0" stroke="#f0d828" stroke-width="2.2" stroke-linecap="round" fill="none"/>
<path d="M17.7 84.5h0M69.3 74.9h0M9.9 86.3h0M24 61.5h0M133.9 79.5h0M33 60h0M94.2 3.4h0M112.6 102h0M14 70.4h0M29.3 109.6h0M86.4 80.2h0M86.5 52.3h0M111.1 2.6h0M66.7 115.3h0M40.8 59.1h0M123.8 84.9h0M52.6 116.1h0M65.4 36.9h0M99.2 79.3h0M96.1 48.4h0M8.2 71.6h0M59.5 10.9h0M105.2 84h0M5.6 94.2h0M96.6 105.4h0M23.3 33.6h0M94.3 53.8h0M114.8 86.7h0M108 14.2h0M75 110.4h0M118.2 5h0M6.7 18.9h0M59.7 102.3h0M94.3 106.4h0M71.6 10.8h0M115.6 26.1h0M95 19.6h0M3.4 47.4h0M63.5 98.7h0M70.6 86.1h0M101 80.9h0M26.1 32h0M146.8 112.2h0M94.7 81.1h0M22.7 111.6h0M140.1 66.9h0M6.5 98.2h0M36.8 86.9h0M36.3 76.7h0M40.1 54.2h0" stroke="#20c020" stroke-width="2.0" stroke-linecap="round" fill="none"/>
<path d="M39.2 90.1h0M46.7 97h0M144.6 97.9h0M141.2 41.4h0M115.9 113.5h0M60.1 71h0M153.1 72.3h0M106 29.6h0" stroke="#20e020" stroke-width="3.6" stroke-linecap="round" fill="none"/>
</svg>
<text transform="translate(24.25 1330.35) scale(1.006 1)" font-size="23.56" font-weight="bold" fill="#fff">0 µM</text>
<text transform="translate(23.57 1459.35) scale(1.0033 1)" font-size="23.56" font-weight="bold" fill="#fff">20 µM</text>
<text transform="translate(30.49 1584.85) scale(1.0014 1)" font-size="23.56" font-weight="bold" fill="#fff">50 µM</text>
<text transform="translate(272.65 1329) scale(0.9511 1)" font-size="15.4" font-weight="bold" fill="#fff">100 µm</text>
<text transform="translate(271.95 1452.7) scale(0.9511 1)" font-size="15.4" font-weight="bold" fill="#fff">100 µm</text>
<text transform="translate(272.75 1577.7) scale(0.9511 1)" font-size="15.4" font-weight="bold" fill="#fff">100 µm</text>
<text transform="translate(777.75 1329.1) scale(0.9511 1)" font-size="15.4" font-weight="bold" fill="#fff">100 µm</text>
<text transform="translate(777.75 1451.9) scale(0.9511 1)" font-size="15.4" font-weight="bold" fill="#fff">100 µm</text>
<text transform="translate(778.85 1577.8) scale(0.9491 1)" font-size="15.4" font-weight="bold" fill="#fff">100 µm</text>
<rect x="305.4" y="1335.2" width="15.4" height="4" fill="#fff"/>
<rect x="304.6" y="1459.1" width="15.3" height="3.6" fill="#fff"/>
<rect x="304.6" y="1584.4" width="15.3" height="3.7" fill="#fff"/>
<rect x="809.7" y="1336.3" width="15.2" height="3.4" fill="#fff"/>
<rect x="809.7" y="1458.8" width="15.2" height="3.6" fill="#fff"/>
<rect x="810.4" y="1585.2" width="15.4" height="3.4" fill="#fff"/>
<text transform="translate(2.34 1634.5) scale(1.0529 1)" font-size="29.93" font-weight="bold">Calcein AM</text>
<text transform="translate(227.13 1634.5) scale(1.0461 1)" font-size="30.38" font-weight="bold">PI</text>
<text transform="translate(364.75 1634.5) scale(1.0367 1)" font-size="30.38" font-weight="bold">Merge</text>
<text transform="translate(507.45 1634.5) scale(1.0402 1)" font-size="29.93" font-weight="bold">Calcein AM</text>
<text transform="translate(741.8 1634.5) scale(1.0623 1)" font-size="30.38" font-weight="bold">PI</text>
<text transform="translate(872.14 1636.8) scale(1.0413 1)" font-size="30.38" font-weight="bold">Merge</text>
</g>
</svg>
</body></html>
